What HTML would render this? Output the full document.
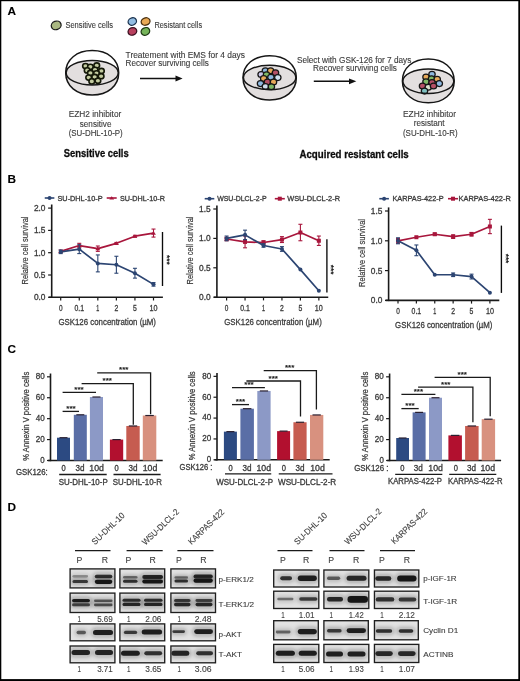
<!DOCTYPE html>
<html><head><meta charset="utf-8"><style>
html,body{margin:0;padding:0;background:#fff;width:520px;height:681px;overflow:hidden}
svg{display:block;will-change:transform}
text{font-family:"Liberation Sans", sans-serif}
</style></head><body>
<svg width="520" height="681" viewBox="0 0 520 681">
<rect x="0" y="0" width="520" height="681" fill="#fff"/>
<rect x="0" y="0" width="520" height="1.2" fill="#000"/>
<rect x="0" y="0" width="1.3" height="681" fill="#000"/>
<rect x="518.3" y="0" width="1.7" height="681" fill="#000"/>
<rect x="0" y="679.1" width="520" height="1.9" fill="#000"/>
<text x="7.4" y="15.0" font-size="11.8" fill="#000" text-anchor="start" font-weight="bold" stroke="#000" stroke-width="0.1" >A</text>
<text x="7.4" y="182.9" font-size="11.8" fill="#000" text-anchor="start" font-weight="bold" stroke="#000" stroke-width="0.1" >B</text>
<text x="7.4" y="353.2" font-size="11.8" fill="#000" text-anchor="start" font-weight="bold" stroke="#000" stroke-width="0.1" >C</text>
<text x="7.4" y="510.5" font-size="11.8" fill="#000" text-anchor="start" font-weight="bold" stroke="#000" stroke-width="0.1" >D</text>
<ellipse cx="56.2" cy="25.4" rx="5.0" ry="4.2" fill="#aab882" stroke="#1a1a1a" stroke-width="1.3" transform="rotate(-20 56.2 25.4)"/>
<text x="65.4" y="27.7" font-size="8.3" fill="#3b3b3b" text-anchor="start" font-weight="normal" textLength="47.6" lengthAdjust="spacingAndGlyphs" stroke="#3b3b3b" stroke-width="0.12" >Sensitive cells</text>
<ellipse cx="132.3" cy="21.5" rx="4.3" ry="3.6" fill="#92bde3" stroke="#1d3550" stroke-width="1.3" transform="rotate(-25 132.3 21.5)"/>
<ellipse cx="145.6" cy="21.5" rx="4.5" ry="3.6" fill="#e9a955" stroke="#4a3010" stroke-width="1.3" transform="rotate(-20 145.6 21.5)"/>
<ellipse cx="132.4" cy="31.4" rx="4.4" ry="3.7" fill="#b8405e" stroke="#3a1020" stroke-width="1.3" transform="rotate(-20 132.4 31.4)"/>
<ellipse cx="145.4" cy="31.4" rx="4.4" ry="3.7" fill="#76b45a" stroke="#1f3a15" stroke-width="1.3" transform="rotate(-25 145.4 31.4)"/>
<text x="154.4" y="27.7" font-size="8.3" fill="#3b3b3b" text-anchor="start" font-weight="normal" textLength="47.7" lengthAdjust="spacingAndGlyphs" stroke="#3b3b3b" stroke-width="0.12" >Resistant cells</text>
<path d="M66.0,72.8 A26.2,12.2 0 0 1 118.4,72.8 L118.7,72.8 C118.7,86.12 107.70,95.0 92.2,95.0 C76.70,95.0 65.7,86.12 65.7,72.8 Z" fill="#e3dfdf"/>
<ellipse cx="85.5" cy="66.1" rx="2.85" ry="2.6" fill="#c3cba0" stroke="#141808" stroke-width="1.6" transform="rotate(0 85.5 66.1)"/>
<ellipse cx="90.4" cy="66.9" rx="2.85" ry="2.6" fill="#c3cba0" stroke="#141808" stroke-width="1.6" transform="rotate(0 90.4 66.9)"/>
<ellipse cx="96.75" cy="65.5" rx="2.85" ry="2.6" fill="#c3cba0" stroke="#141808" stroke-width="1.6" transform="rotate(0 96.75 65.5)"/>
<ellipse cx="87.2" cy="70.4" rx="2.85" ry="2.6" fill="#c3cba0" stroke="#141808" stroke-width="1.6" transform="rotate(0 87.2 70.4)"/>
<ellipse cx="95" cy="69.8" rx="2.85" ry="2.6" fill="#c3cba0" stroke="#141808" stroke-width="1.6" transform="rotate(0 95 69.8)"/>
<ellipse cx="101.4" cy="71" rx="2.85" ry="2.6" fill="#c3cba0" stroke="#141808" stroke-width="1.6" transform="rotate(0 101.4 71)"/>
<ellipse cx="90.4" cy="73" rx="2.85" ry="2.6" fill="#c3cba0" stroke="#141808" stroke-width="1.6" transform="rotate(0 90.4 73)"/>
<ellipse cx="96.5" cy="73.3" rx="2.85" ry="2.6" fill="#c3cba0" stroke="#141808" stroke-width="1.6" transform="rotate(0 96.5 73.3)"/>
<ellipse cx="88.7" cy="77.6" rx="2.85" ry="2.6" fill="#c3cba0" stroke="#141808" stroke-width="1.6" transform="rotate(0 88.7 77.6)"/>
<ellipse cx="94.7" cy="77" rx="2.85" ry="2.6" fill="#c3cba0" stroke="#141808" stroke-width="1.6" transform="rotate(0 94.7 77)"/>
<ellipse cx="101.1" cy="76.2" rx="2.85" ry="2.6" fill="#c3cba0" stroke="#141808" stroke-width="1.6" transform="rotate(0 101.1 76.2)"/>
<ellipse cx="91.8" cy="81.4" rx="2.85" ry="2.6" fill="#c3cba0" stroke="#141808" stroke-width="1.6" transform="rotate(0 91.8 81.4)"/>
<ellipse cx="97.9" cy="80.8" rx="2.85" ry="2.6" fill="#c3cba0" stroke="#141808" stroke-width="1.6" transform="rotate(0 97.9 80.8)"/>
<path d="M92.2,50.599999999999994 C76.70,50.599999999999994 65.7,59.48 65.7,72.8 C65.7,86.12 76.70,95.0 92.2,95.0 C107.70,95.0 118.7,86.12 118.7,72.8 C118.7,59.48 107.70,50.599999999999994 92.2,50.599999999999994 Z" fill="none" stroke="#161616" stroke-width="1.5"/>
<ellipse cx="92.2" cy="72.8" rx="26.1" ry="12.2" fill="none" stroke="#161616" stroke-width="1.5"/>
<path d="M243.29999999999998,77.5 A26.349999999999998,12.2 0 0 1 295.99999999999994,77.5 L296.29999999999995,77.85 C296.29999999999995,91.14 285.24,100.0 269.65,100.0 C254.06,100.0 242.99999999999997,91.14 242.99999999999997,77.85 Z" fill="#e3dfdf"/>
<ellipse cx="265.4" cy="70.7" rx="3.2" ry="2.9" fill="#8fb9e0" stroke="#161616" stroke-width="1.25" transform="rotate(0 265.4 70.7)"/>
<ellipse cx="270.6" cy="70.7" rx="3.2" ry="2.9" fill="#e7a95a" stroke="#161616" stroke-width="1.25" transform="rotate(0 270.6 70.7)"/>
<ellipse cx="275.5" cy="72.7" rx="3.2" ry="2.9" fill="#b55066" stroke="#161616" stroke-width="1.25" transform="rotate(0 275.5 72.7)"/>
<ellipse cx="261.1" cy="74.4" rx="3.2" ry="2.9" fill="#c9c3e6" stroke="#161616" stroke-width="1.25" transform="rotate(0 261.1 74.4)"/>
<ellipse cx="266.5" cy="74.7" rx="3.2" ry="2.9" fill="#7fb865" stroke="#161616" stroke-width="1.25" transform="rotate(0 266.5 74.7)"/>
<ellipse cx="270.9" cy="77.3" rx="3.2" ry="2.9" fill="#8fb9e0" stroke="#161616" stroke-width="1.25" transform="rotate(0 270.9 77.3)"/>
<ellipse cx="277.8" cy="77.6" rx="3.2" ry="2.9" fill="#cfe0ef" stroke="#161616" stroke-width="1.25" transform="rotate(0 277.8 77.6)"/>
<ellipse cx="263.7" cy="78.4" rx="3.2" ry="2.9" fill="#e7a95a" stroke="#161616" stroke-width="1.25" transform="rotate(0 263.7 78.4)"/>
<ellipse cx="267.4" cy="81.9" rx="3.2" ry="2.9" fill="#b55066" stroke="#161616" stroke-width="1.25" transform="rotate(0 267.4 81.9)"/>
<ellipse cx="273.5" cy="81.9" rx="3.2" ry="2.9" fill="#e7a95a" stroke="#161616" stroke-width="1.25" transform="rotate(0 273.5 81.9)"/>
<ellipse cx="260.5" cy="83.6" rx="3.2" ry="2.9" fill="#8fb9e0" stroke="#161616" stroke-width="1.25" transform="rotate(0 260.5 83.6)"/>
<ellipse cx="265.4" cy="86.5" rx="3.2" ry="2.9" fill="#cfe0ef" stroke="#161616" stroke-width="1.25" transform="rotate(0 265.4 86.5)"/>
<ellipse cx="271.4" cy="86.8" rx="3.2" ry="2.9" fill="#7fb865" stroke="#161616" stroke-width="1.25" transform="rotate(0 271.4 86.8)"/>
<path d="M269.65,55.7 C254.06,55.7 242.99999999999997,64.56 242.99999999999997,77.85 C242.99999999999997,91.14 254.06,100.0 269.65,100.0 C285.24,100.0 296.29999999999995,91.14 296.29999999999995,77.85 C296.29999999999995,64.56 285.24,55.7 269.65,55.7 Z" fill="none" stroke="#161616" stroke-width="1.5"/>
<ellipse cx="269.65" cy="77.5" rx="26.25" ry="12.2" fill="none" stroke="#161616" stroke-width="1.5"/>
<path d="M402.70000000000005,81.3 A25.599999999999998,12.2 0 0 1 453.9,81.3 L454.2,80.9 C454.2,94.04 443.45,102.8 428.3,102.8 C413.15,102.8 402.40000000000003,94.04 402.40000000000003,80.9 Z" fill="#e3dfdf"/>
<ellipse cx="432" cy="74.3" rx="3.2" ry="2.9" fill="#8fb9e0" stroke="#161616" stroke-width="1.25" transform="rotate(0 432 74.3)"/>
<ellipse cx="426" cy="77" rx="3.2" ry="2.9" fill="#e7a95a" stroke="#161616" stroke-width="1.25" transform="rotate(0 426 77)"/>
<ellipse cx="431.5" cy="78.7" rx="3.2" ry="2.9" fill="#7fb865" stroke="#161616" stroke-width="1.25" transform="rotate(0 431.5 78.7)"/>
<ellipse cx="437.2" cy="79.3" rx="3.2" ry="2.9" fill="#e7a95a" stroke="#161616" stroke-width="1.25" transform="rotate(0 437.2 79.3)"/>
<ellipse cx="426" cy="81.8" rx="3.2" ry="2.9" fill="#7fb865" stroke="#161616" stroke-width="1.25" transform="rotate(0 426 81.8)"/>
<ellipse cx="432" cy="82.4" rx="3.2" ry="2.9" fill="#b55066" stroke="#161616" stroke-width="1.25" transform="rotate(0 432 82.4)"/>
<ellipse cx="439.3" cy="83.6" rx="3.2" ry="2.9" fill="#8fb9e0" stroke="#161616" stroke-width="1.25" transform="rotate(0 439.3 83.6)"/>
<ellipse cx="422.5" cy="85.9" rx="3.2" ry="2.9" fill="#b55066" stroke="#161616" stroke-width="1.25" transform="rotate(0 422.5 85.9)"/>
<ellipse cx="428.3" cy="87.3" rx="3.2" ry="2.9" fill="#dde3cf" stroke="#161616" stroke-width="1.25" transform="rotate(0 428.3 87.3)"/>
<ellipse cx="433.5" cy="85.9" rx="3.2" ry="2.9" fill="#b55066" stroke="#161616" stroke-width="1.25" transform="rotate(0 433.5 85.9)"/>
<ellipse cx="424.5" cy="91.1" rx="3.2" ry="2.9" fill="#7ec0c0" stroke="#161616" stroke-width="1.25" transform="rotate(0 424.5 91.1)"/>
<path d="M428.3,59.0 C413.15,59.0 402.40000000000003,67.76 402.40000000000003,80.9 C402.40000000000003,94.04 413.15,102.8 428.3,102.8 C443.45,102.8 454.2,94.04 454.2,80.9 C454.2,67.76 443.45,59.0 428.3,59.0 Z" fill="none" stroke="#161616" stroke-width="1.5"/>
<ellipse cx="428.3" cy="81.3" rx="25.5" ry="12.2" fill="none" stroke="#161616" stroke-width="1.5"/>
<text x="125.6" y="57.5" font-size="8.4" fill="#3b3b3b" text-anchor="start" font-weight="normal" textLength="119.4" lengthAdjust="spacingAndGlyphs" stroke="#3b3b3b" stroke-width="0.12" >Treatement with EMS for 4 days</text>
<text x="125.6" y="66.3" font-size="8.4" fill="#3b3b3b" text-anchor="start" font-weight="normal" textLength="83.2" lengthAdjust="spacingAndGlyphs" stroke="#3b3b3b" stroke-width="0.12" >Recover surviving cells</text>
<line x1="140" y1="78.5" x2="177" y2="78.5" stroke="#111" stroke-width="1.4" />
<path d="M175.5,75.6 L182.6,78.5 L175.5,81.4 Z" fill="#111"/>
<text x="296.9" y="63.1" font-size="8.4" fill="#3b3b3b" text-anchor="start" font-weight="normal" textLength="114.4" lengthAdjust="spacingAndGlyphs" stroke="#3b3b3b" stroke-width="0.12" >Select with GSK-126 for 7 days</text>
<text x="313.1" y="71.3" font-size="8.4" fill="#3b3b3b" text-anchor="start" font-weight="normal" textLength="83.8" lengthAdjust="spacingAndGlyphs" stroke="#3b3b3b" stroke-width="0.12" >Recover surviving cells</text>
<line x1="313.8" y1="81.3" x2="350" y2="81.3" stroke="#111" stroke-width="1.4" />
<path d="M349,78.4 L356.3,81.3 L349,84.2 Z" fill="#111"/>
<text x="95.0" y="116.8" font-size="8.3" fill="#3b3b3b" text-anchor="middle" font-weight="normal" textLength="52.6" lengthAdjust="spacingAndGlyphs" stroke="#3b3b3b" stroke-width="0.12" >EZH2 inhibitor</text>
<text x="95.6" y="126.8" font-size="8.3" fill="#3b3b3b" text-anchor="middle" font-weight="normal" textLength="31.6" lengthAdjust="spacingAndGlyphs" stroke="#3b3b3b" stroke-width="0.12" >sensitive</text>
<text x="95.7" y="135.9" font-size="8.3" fill="#3b3b3b" text-anchor="middle" font-weight="normal" textLength="54.0" lengthAdjust="spacingAndGlyphs" stroke="#3b3b3b" stroke-width="0.12" >(SU-DHL-10-P)</text>
<text x="63.8" y="157.1" font-size="10.3" fill="#0d0d0d" text-anchor="start" font-weight="bold" textLength="64.9" lengthAdjust="spacingAndGlyphs" stroke="#0d0d0d" stroke-width="0.3" >Sensitive cells</text>
<text x="429.5" y="117.0" font-size="8.3" fill="#3b3b3b" text-anchor="middle" font-weight="normal" textLength="53.0" lengthAdjust="spacingAndGlyphs" stroke="#3b3b3b" stroke-width="0.12" >EZH2 inhibitor</text>
<text x="429.2" y="126.2" font-size="8.3" fill="#3b3b3b" text-anchor="middle" font-weight="normal" textLength="30.8" lengthAdjust="spacingAndGlyphs" stroke="#3b3b3b" stroke-width="0.12" >resistant</text>
<text x="430.3" y="135.6" font-size="8.3" fill="#3b3b3b" text-anchor="middle" font-weight="normal" textLength="54.7" lengthAdjust="spacingAndGlyphs" stroke="#3b3b3b" stroke-width="0.12" >(SU-DHL-10-R)</text>
<text x="299.5" y="157.5" font-size="10.3" fill="#0d0d0d" text-anchor="start" font-weight="bold" textLength="109.2" lengthAdjust="spacingAndGlyphs" stroke="#0d0d0d" stroke-width="0.3" >Acquired resistant cells</text>
<line x1="51.7" y1="204.50000000000003" x2="51.7" y2="298.0" stroke="#1a1a1a" stroke-width="1.6" />
<line x1="48.7" y1="297.3" x2="162.9" y2="297.3" stroke="#1a1a1a" stroke-width="1.6" />
<line x1="48.1" y1="208.10000000000002" x2="51.7" y2="208.10000000000002" stroke="#1a1a1a" stroke-width="1.2" />
<text x="45.5" y="211.00000000000003" font-size="8.3" fill="#3a3a3a" text-anchor="end" font-weight="normal" textLength="11.6" lengthAdjust="spacingAndGlyphs" stroke="#3a3a3a" stroke-width="0.3" >2.0</text>
<line x1="48.1" y1="230.4" x2="51.7" y2="230.4" stroke="#1a1a1a" stroke-width="1.2" />
<text x="45.5" y="233.3" font-size="8.3" fill="#3a3a3a" text-anchor="end" font-weight="normal" textLength="11.6" lengthAdjust="spacingAndGlyphs" stroke="#3a3a3a" stroke-width="0.3" >1.5</text>
<line x1="48.1" y1="252.70000000000002" x2="51.7" y2="252.70000000000002" stroke="#1a1a1a" stroke-width="1.2" />
<text x="45.5" y="255.60000000000002" font-size="8.3" fill="#3a3a3a" text-anchor="end" font-weight="normal" textLength="11.6" lengthAdjust="spacingAndGlyphs" stroke="#3a3a3a" stroke-width="0.3" >1.0</text>
<line x1="48.1" y1="275.0" x2="51.7" y2="275.0" stroke="#1a1a1a" stroke-width="1.2" />
<text x="45.5" y="277.9" font-size="8.3" fill="#3a3a3a" text-anchor="end" font-weight="normal" textLength="11.6" lengthAdjust="spacingAndGlyphs" stroke="#3a3a3a" stroke-width="0.3" >0.5</text>
<line x1="48.1" y1="297.3" x2="51.7" y2="297.3" stroke="#1a1a1a" stroke-width="1.2" />
<text x="45.5" y="300.2" font-size="8.3" fill="#3a3a3a" text-anchor="end" font-weight="normal" textLength="11.6" lengthAdjust="spacingAndGlyphs" stroke="#3a3a3a" stroke-width="0.3" >0.0</text>
<line x1="60.7" y1="297.3" x2="60.7" y2="300.5" stroke="#1a1a1a" stroke-width="1.2" />
<text x="60.7" y="310.90000000000003" font-size="8.6" fill="#3a3a3a" text-anchor="middle" font-weight="normal" textLength="3.6" lengthAdjust="spacingAndGlyphs" stroke="#3a3a3a" stroke-width="0.3" >0</text>
<line x1="79.26" y1="297.3" x2="79.26" y2="300.5" stroke="#1a1a1a" stroke-width="1.2" />
<text x="79.26" y="310.90000000000003" font-size="8.6" fill="#3a3a3a" text-anchor="middle" font-weight="normal" textLength="9.6" lengthAdjust="spacingAndGlyphs" stroke="#3a3a3a" stroke-width="0.3" >0.1</text>
<line x1="97.82" y1="297.3" x2="97.82" y2="300.5" stroke="#1a1a1a" stroke-width="1.2" />
<text x="97.82" y="310.90000000000003" font-size="8.6" fill="#3a3a3a" text-anchor="middle" font-weight="normal" textLength="3.0" lengthAdjust="spacingAndGlyphs" stroke="#3a3a3a" stroke-width="0.3" >1</text>
<line x1="116.38" y1="297.3" x2="116.38" y2="300.5" stroke="#1a1a1a" stroke-width="1.2" />
<text x="116.38" y="310.90000000000003" font-size="8.6" fill="#3a3a3a" text-anchor="middle" font-weight="normal" textLength="3.8" lengthAdjust="spacingAndGlyphs" stroke="#3a3a3a" stroke-width="0.3" >2</text>
<line x1="134.94" y1="297.3" x2="134.94" y2="300.5" stroke="#1a1a1a" stroke-width="1.2" />
<text x="134.94" y="310.90000000000003" font-size="8.6" fill="#3a3a3a" text-anchor="middle" font-weight="normal" textLength="3.8" lengthAdjust="spacingAndGlyphs" stroke="#3a3a3a" stroke-width="0.3" >5</text>
<line x1="153.5" y1="297.3" x2="153.5" y2="300.5" stroke="#1a1a1a" stroke-width="1.2" />
<text x="153.5" y="310.90000000000003" font-size="8.6" fill="#3a3a3a" text-anchor="middle" font-weight="normal" textLength="8.0" lengthAdjust="spacingAndGlyphs" stroke="#3a3a3a" stroke-width="0.3" >10</text>
<text x="107.2" y="324.8" font-size="9.8" fill="#3a3a3a" text-anchor="middle" font-weight="normal" textLength="97.6" lengthAdjust="spacingAndGlyphs" stroke="#3a3a3a" stroke-width="0.3" >GSK126 concentration (µM)</text>
<text x="0" y="0" font-size="9.2" fill="#3a3a3a" stroke="#3a3a3a" stroke-width="0.2" text-anchor="middle" textLength="68" lengthAdjust="spacingAndGlyphs" transform="translate(27.6,250.5) rotate(-90)">Relative cell survival</text>
<line x1="60.7" y1="250.02400000000003" x2="60.7" y2="252.70000000000002" stroke="#a8163c" stroke-width="1.1" />
<line x1="58.7" y1="250.02400000000003" x2="62.7" y2="250.02400000000003" stroke="#a8163c" stroke-width="1.1" />
<line x1="58.7" y1="252.70000000000002" x2="62.7" y2="252.70000000000002" stroke="#a8163c" stroke-width="1.1" />
<line x1="79.26" y1="243.33400000000003" x2="79.26" y2="247.794" stroke="#a8163c" stroke-width="1.1" />
<line x1="77.26" y1="243.33400000000003" x2="81.26" y2="243.33400000000003" stroke="#a8163c" stroke-width="1.1" />
<line x1="77.26" y1="247.794" x2="81.26" y2="247.794" stroke="#a8163c" stroke-width="1.1" />
<line x1="97.82" y1="246.01000000000002" x2="97.82" y2="251.362" stroke="#a8163c" stroke-width="1.1" />
<line x1="95.82" y1="246.01000000000002" x2="99.82" y2="246.01000000000002" stroke="#a8163c" stroke-width="1.1" />
<line x1="95.82" y1="251.362" x2="99.82" y2="251.362" stroke="#a8163c" stroke-width="1.1" />
<line x1="116.38" y1="242.442" x2="116.38" y2="244.226" stroke="#a8163c" stroke-width="1.1" />
<line x1="114.38" y1="242.442" x2="118.38" y2="242.442" stroke="#a8163c" stroke-width="1.1" />
<line x1="114.38" y1="244.226" x2="118.38" y2="244.226" stroke="#a8163c" stroke-width="1.1" />
<line x1="134.94" y1="235.306" x2="134.94" y2="237.09" stroke="#a8163c" stroke-width="1.1" />
<line x1="132.94" y1="235.306" x2="136.94" y2="235.306" stroke="#a8163c" stroke-width="1.1" />
<line x1="132.94" y1="237.09" x2="136.94" y2="237.09" stroke="#a8163c" stroke-width="1.1" />
<line x1="153.5" y1="229.062" x2="153.5" y2="237.09000000000003" stroke="#a8163c" stroke-width="1.1" />
<line x1="151.5" y1="229.062" x2="155.5" y2="229.062" stroke="#a8163c" stroke-width="1.1" />
<line x1="151.5" y1="237.09000000000003" x2="155.5" y2="237.09000000000003" stroke="#a8163c" stroke-width="1.1" />
<path d="M60.70,251.36 L79.26,245.56 L97.82,248.69 L116.38,243.33 L134.94,236.20 L153.50,233.08" fill="none" stroke="#a8163c" stroke-width="1.7" stroke-linejoin="round"/>
<path d="M58.300000000000004,252.96200000000002 L60.7,249.36200000000002 L63.1,252.96200000000002 Z" fill="#a8163c"/>
<path d="M76.86,247.16400000000002 L79.26,243.56400000000002 L81.66000000000001,247.16400000000002 Z" fill="#a8163c"/>
<path d="M95.41999999999999,250.286 L97.82,246.686 L100.22,250.286 Z" fill="#a8163c"/>
<path d="M113.97999999999999,244.934 L116.38,241.334 L118.78,244.934 Z" fill="#a8163c"/>
<path d="M132.54,237.798 L134.94,234.198 L137.34,237.798 Z" fill="#a8163c"/>
<path d="M151.1,234.67600000000002 L153.5,231.07600000000002 L155.9,234.67600000000002 Z" fill="#a8163c"/>
<line x1="60.7" y1="250.024" x2="60.7" y2="253.59199999999998" stroke="#2c4572" stroke-width="1.1" />
<line x1="58.7" y1="250.024" x2="62.7" y2="250.024" stroke="#2c4572" stroke-width="1.1" />
<line x1="58.7" y1="253.59199999999998" x2="62.7" y2="253.59199999999998" stroke="#2c4572" stroke-width="1.1" />
<line x1="79.26" y1="244.672" x2="79.26" y2="253.592" stroke="#2c4572" stroke-width="1.1" />
<line x1="77.26" y1="244.672" x2="81.26" y2="244.672" stroke="#2c4572" stroke-width="1.1" />
<line x1="77.26" y1="253.592" x2="81.26" y2="253.592" stroke="#2c4572" stroke-width="1.1" />
<line x1="97.82" y1="254.93" x2="97.82" y2="271.878" stroke="#2c4572" stroke-width="1.1" />
<line x1="95.82" y1="254.93" x2="99.82" y2="254.93" stroke="#2c4572" stroke-width="1.1" />
<line x1="95.82" y1="271.878" x2="99.82" y2="271.878" stroke="#2c4572" stroke-width="1.1" />
<line x1="116.38" y1="256.26800000000003" x2="116.38" y2="273.216" stroke="#2c4572" stroke-width="1.1" />
<line x1="114.38" y1="256.26800000000003" x2="118.38" y2="256.26800000000003" stroke="#2c4572" stroke-width="1.1" />
<line x1="114.38" y1="273.216" x2="118.38" y2="273.216" stroke="#2c4572" stroke-width="1.1" />
<line x1="134.94" y1="268.31" x2="134.94" y2="278.122" stroke="#2c4572" stroke-width="1.1" />
<line x1="132.94" y1="268.31" x2="136.94" y2="268.31" stroke="#2c4572" stroke-width="1.1" />
<line x1="132.94" y1="278.122" x2="136.94" y2="278.122" stroke="#2c4572" stroke-width="1.1" />
<line x1="153.5" y1="282.582" x2="153.5" y2="286.15" stroke="#2c4572" stroke-width="1.1" />
<line x1="151.5" y1="282.582" x2="155.5" y2="282.582" stroke="#2c4572" stroke-width="1.1" />
<line x1="151.5" y1="286.15" x2="155.5" y2="286.15" stroke="#2c4572" stroke-width="1.1" />
<path d="M60.70,251.81 L79.26,249.13 L97.82,263.40 L116.38,264.74 L134.94,273.22 L153.50,284.37" fill="none" stroke="#2c4572" stroke-width="1.7" stroke-linejoin="round"/>
<circle cx="60.7" cy="251.808" r="2" fill="#2c4572"/>
<circle cx="79.26" cy="249.132" r="2" fill="#2c4572"/>
<circle cx="97.82" cy="263.404" r="2" fill="#2c4572"/>
<circle cx="116.38" cy="264.742" r="2" fill="#2c4572"/>
<circle cx="134.94" cy="273.216" r="2" fill="#2c4572"/>
<circle cx="153.5" cy="284.366" r="2" fill="#2c4572"/>
<line x1="44.75" y1="198.0" x2="54.35" y2="198.0" stroke="#2c4572" stroke-width="1.6" />
<circle cx="49.55" cy="198.0" r="2.0" fill="#2c4572"/>
<text x="57.5" y="200.6" font-size="7.3" fill="#3a3a3a" text-anchor="start" font-weight="normal" textLength="45.0" lengthAdjust="spacingAndGlyphs" stroke="#3a3a3a" stroke-width="0.3" >SU-DHL-10-P</text>
<line x1="106.7" y1="198.0" x2="116.7" y2="198.0" stroke="#a8163c" stroke-width="1.6" />
<path d="M109.3,199.5 L111.7,196.2 L114.10000000000001,199.5 Z" fill="#a8163c"/>
<text x="119.9" y="200.6" font-size="7.3" fill="#3a3a3a" text-anchor="start" font-weight="normal" textLength="45.0" lengthAdjust="spacingAndGlyphs" stroke="#3a3a3a" stroke-width="0.3" >SU-DHL-10-R</text>
<line x1="162.5" y1="232" x2="162.5" y2="286" stroke="#0a0a0a" stroke-width="1.35" />
<text x="0" y="0" font-size="8.6" font-weight="bold" fill="#1a1a1a" text-anchor="middle" textLength="9.6" lengthAdjust="spacingAndGlyphs" transform="translate(163.9,259.8) rotate(90)">***</text>
<line x1="216.9" y1="205.4" x2="216.9" y2="297.9" stroke="#1a1a1a" stroke-width="1.6" />
<line x1="213.9" y1="297.2" x2="328.25" y2="297.2" stroke="#1a1a1a" stroke-width="1.6" />
<line x1="213.3" y1="209.0" x2="216.9" y2="209.0" stroke="#1a1a1a" stroke-width="1.2" />
<text x="210.70000000000002" y="211.9" font-size="8.3" fill="#3a3a3a" text-anchor="end" font-weight="normal" textLength="11.6" lengthAdjust="spacingAndGlyphs" stroke="#3a3a3a" stroke-width="0.3" >1.5</text>
<line x1="213.3" y1="238.39999999999998" x2="216.9" y2="238.39999999999998" stroke="#1a1a1a" stroke-width="1.2" />
<text x="210.70000000000002" y="241.29999999999998" font-size="8.3" fill="#3a3a3a" text-anchor="end" font-weight="normal" textLength="11.6" lengthAdjust="spacingAndGlyphs" stroke="#3a3a3a" stroke-width="0.3" >1.0</text>
<line x1="213.3" y1="267.8" x2="216.9" y2="267.8" stroke="#1a1a1a" stroke-width="1.2" />
<text x="210.70000000000002" y="270.7" font-size="8.3" fill="#3a3a3a" text-anchor="end" font-weight="normal" textLength="11.6" lengthAdjust="spacingAndGlyphs" stroke="#3a3a3a" stroke-width="0.3" >0.5</text>
<line x1="213.3" y1="297.2" x2="216.9" y2="297.2" stroke="#1a1a1a" stroke-width="1.2" />
<text x="210.70000000000002" y="300.09999999999997" font-size="8.3" fill="#3a3a3a" text-anchor="end" font-weight="normal" textLength="11.6" lengthAdjust="spacingAndGlyphs" stroke="#3a3a3a" stroke-width="0.3" >0.0</text>
<line x1="226.6" y1="297.2" x2="226.6" y2="300.4" stroke="#1a1a1a" stroke-width="1.2" />
<text x="226.6" y="310.8" font-size="8.6" fill="#3a3a3a" text-anchor="middle" font-weight="normal" textLength="3.6" lengthAdjust="spacingAndGlyphs" stroke="#3a3a3a" stroke-width="0.3" >0</text>
<line x1="245.04999999999998" y1="297.2" x2="245.04999999999998" y2="300.4" stroke="#1a1a1a" stroke-width="1.2" />
<text x="245.04999999999998" y="310.8" font-size="8.6" fill="#3a3a3a" text-anchor="middle" font-weight="normal" textLength="9.6" lengthAdjust="spacingAndGlyphs" stroke="#3a3a3a" stroke-width="0.3" >0.1</text>
<line x1="263.5" y1="297.2" x2="263.5" y2="300.4" stroke="#1a1a1a" stroke-width="1.2" />
<text x="263.5" y="310.8" font-size="8.6" fill="#3a3a3a" text-anchor="middle" font-weight="normal" textLength="3.0" lengthAdjust="spacingAndGlyphs" stroke="#3a3a3a" stroke-width="0.3" >1</text>
<line x1="281.95" y1="297.2" x2="281.95" y2="300.4" stroke="#1a1a1a" stroke-width="1.2" />
<text x="281.95" y="310.8" font-size="8.6" fill="#3a3a3a" text-anchor="middle" font-weight="normal" textLength="3.8" lengthAdjust="spacingAndGlyphs" stroke="#3a3a3a" stroke-width="0.3" >2</text>
<line x1="300.4" y1="297.2" x2="300.4" y2="300.4" stroke="#1a1a1a" stroke-width="1.2" />
<text x="300.4" y="310.8" font-size="8.6" fill="#3a3a3a" text-anchor="middle" font-weight="normal" textLength="3.8" lengthAdjust="spacingAndGlyphs" stroke="#3a3a3a" stroke-width="0.3" >5</text>
<line x1="318.85" y1="297.2" x2="318.85" y2="300.4" stroke="#1a1a1a" stroke-width="1.2" />
<text x="318.85" y="310.8" font-size="8.6" fill="#3a3a3a" text-anchor="middle" font-weight="normal" textLength="8.0" lengthAdjust="spacingAndGlyphs" stroke="#3a3a3a" stroke-width="0.3" >10</text>
<text x="273.0" y="324.7" font-size="9.8" fill="#3a3a3a" text-anchor="middle" font-weight="normal" textLength="97.5" lengthAdjust="spacingAndGlyphs" stroke="#3a3a3a" stroke-width="0.3" >GSK126 concentration (µM)</text>
<text x="0" y="0" font-size="9.2" fill="#3a3a3a" stroke="#3a3a3a" stroke-width="0.2" text-anchor="middle" textLength="68" lengthAdjust="spacingAndGlyphs" transform="translate(193.3,250.5) rotate(-90)">Relative cell survival</text>
<line x1="226.6" y1="237.224" x2="226.6" y2="240.752" stroke="#a8163c" stroke-width="1.1" />
<line x1="224.6" y1="237.224" x2="228.6" y2="237.224" stroke="#a8163c" stroke-width="1.1" />
<line x1="224.6" y1="240.752" x2="228.6" y2="240.752" stroke="#a8163c" stroke-width="1.1" />
<line x1="245.04999999999998" y1="236.048" x2="245.04999999999998" y2="247.808" stroke="#a8163c" stroke-width="1.1" />
<line x1="243.04999999999998" y1="236.048" x2="247.04999999999998" y2="236.048" stroke="#a8163c" stroke-width="1.1" />
<line x1="243.04999999999998" y1="247.808" x2="247.04999999999998" y2="247.808" stroke="#a8163c" stroke-width="1.1" />
<line x1="263.5" y1="240.75199999999998" x2="263.5" y2="244.28" stroke="#a8163c" stroke-width="1.1" />
<line x1="261.5" y1="240.75199999999998" x2="265.5" y2="240.75199999999998" stroke="#a8163c" stroke-width="1.1" />
<line x1="261.5" y1="244.28" x2="265.5" y2="244.28" stroke="#a8163c" stroke-width="1.1" />
<line x1="281.95" y1="236.636" x2="281.95" y2="242.516" stroke="#a8163c" stroke-width="1.1" />
<line x1="279.95" y1="236.636" x2="283.95" y2="236.636" stroke="#a8163c" stroke-width="1.1" />
<line x1="279.95" y1="242.516" x2="283.95" y2="242.516" stroke="#a8163c" stroke-width="1.1" />
<line x1="300.4" y1="224.28799999999998" x2="300.4" y2="240.75199999999998" stroke="#a8163c" stroke-width="1.1" />
<line x1="298.4" y1="224.28799999999998" x2="302.4" y2="224.28799999999998" stroke="#a8163c" stroke-width="1.1" />
<line x1="298.4" y1="240.75199999999998" x2="302.4" y2="240.75199999999998" stroke="#a8163c" stroke-width="1.1" />
<line x1="318.85" y1="236.048" x2="318.85" y2="245.45600000000002" stroke="#a8163c" stroke-width="1.1" />
<line x1="316.85" y1="236.048" x2="320.85" y2="236.048" stroke="#a8163c" stroke-width="1.1" />
<line x1="316.85" y1="245.45600000000002" x2="320.85" y2="245.45600000000002" stroke="#a8163c" stroke-width="1.1" />
<path d="M226.60,238.99 L245.05,241.93 L263.50,242.52 L281.95,239.58 L300.40,232.52 L318.85,240.75" fill="none" stroke="#a8163c" stroke-width="1.7" stroke-linejoin="round"/>
<rect x="224.6" y="236.988" width="4" height="4" fill="#a8163c"/>
<rect x="243.04999999999998" y="239.928" width="4" height="4" fill="#a8163c"/>
<rect x="261.5" y="240.516" width="4" height="4" fill="#a8163c"/>
<rect x="279.95" y="237.576" width="4" height="4" fill="#a8163c"/>
<rect x="298.4" y="230.51999999999998" width="4" height="4" fill="#a8163c"/>
<rect x="316.85" y="238.752" width="4" height="4" fill="#a8163c"/>
<line x1="226.6" y1="236.04799999999997" x2="226.6" y2="240.75199999999998" stroke="#2c4572" stroke-width="1.1" />
<line x1="224.6" y1="236.04799999999997" x2="228.6" y2="236.04799999999997" stroke="#2c4572" stroke-width="1.1" />
<line x1="224.6" y1="240.75199999999998" x2="228.6" y2="240.75199999999998" stroke="#2c4572" stroke-width="1.1" />
<line x1="245.04999999999998" y1="230.16799999999998" x2="245.04999999999998" y2="239.576" stroke="#2c4572" stroke-width="1.1" />
<line x1="243.04999999999998" y1="230.16799999999998" x2="247.04999999999998" y2="230.16799999999998" stroke="#2c4572" stroke-width="1.1" />
<line x1="243.04999999999998" y1="239.576" x2="247.04999999999998" y2="239.576" stroke="#2c4572" stroke-width="1.1" />
<line x1="263.5" y1="243.69199999999998" x2="263.5" y2="247.22" stroke="#2c4572" stroke-width="1.1" />
<line x1="261.5" y1="243.69199999999998" x2="265.5" y2="243.69199999999998" stroke="#2c4572" stroke-width="1.1" />
<line x1="261.5" y1="247.22" x2="265.5" y2="247.22" stroke="#2c4572" stroke-width="1.1" />
<line x1="281.95" y1="246.63199999999998" x2="281.95" y2="251.33599999999998" stroke="#2c4572" stroke-width="1.1" />
<line x1="279.95" y1="246.63199999999998" x2="283.95" y2="246.63199999999998" stroke="#2c4572" stroke-width="1.1" />
<line x1="279.95" y1="251.33599999999998" x2="283.95" y2="251.33599999999998" stroke="#2c4572" stroke-width="1.1" />
<path d="M226.60,238.40 L245.05,234.87 L263.50,245.46 L281.95,248.98 L300.40,269.56 L318.85,290.73" fill="none" stroke="#2c4572" stroke-width="1.7" stroke-linejoin="round"/>
<circle cx="226.6" cy="238.39999999999998" r="2" fill="#2c4572"/>
<circle cx="245.04999999999998" cy="234.87199999999999" r="2" fill="#2c4572"/>
<circle cx="263.5" cy="245.456" r="2" fill="#2c4572"/>
<circle cx="281.95" cy="248.98399999999998" r="2" fill="#2c4572"/>
<circle cx="300.4" cy="269.56399999999996" r="2" fill="#2c4572"/>
<circle cx="318.85" cy="290.73199999999997" r="2" fill="#2c4572"/>
<line x1="204.7" y1="198.7" x2="214.29999999999998" y2="198.7" stroke="#2c4572" stroke-width="1.6" />
<circle cx="209.5" cy="198.7" r="2.0" fill="#2c4572"/>
<text x="217.2" y="201.29999999999998" font-size="7.3" fill="#3a3a3a" text-anchor="start" font-weight="normal" textLength="49.4" lengthAdjust="spacingAndGlyphs" stroke="#3a3a3a" stroke-width="0.3" >WSU-DLCL-2-P</text>
<line x1="274.8" y1="198.7" x2="284.8" y2="198.7" stroke="#a8163c" stroke-width="1.6" />
<rect x="277.8" y="196.7" width="4" height="4" fill="#a8163c"/>
<text x="287.2" y="201.29999999999998" font-size="7.3" fill="#3a3a3a" text-anchor="start" font-weight="normal" textLength="52.8" lengthAdjust="spacingAndGlyphs" stroke="#3a3a3a" stroke-width="0.3" >WSU-DLCL-2-R</text>
<line x1="326.9" y1="239.2" x2="326.9" y2="292.6" stroke="#0a0a0a" stroke-width="1.35" />
<text x="0" y="0" font-size="8.6" font-weight="bold" fill="#1a1a1a" text-anchor="middle" textLength="9.6" lengthAdjust="spacingAndGlyphs" transform="translate(328.4,269.6) rotate(90)">***</text>
<line x1="388.6" y1="207.39999999999998" x2="388.6" y2="301.09999999999997" stroke="#1a1a1a" stroke-width="1.6" />
<line x1="385.6" y1="300.4" x2="499.29999999999995" y2="300.4" stroke="#1a1a1a" stroke-width="1.6" />
<line x1="385.0" y1="210.99999999999997" x2="388.6" y2="210.99999999999997" stroke="#1a1a1a" stroke-width="1.2" />
<text x="382.40000000000003" y="213.89999999999998" font-size="8.3" fill="#3a3a3a" text-anchor="end" font-weight="normal" textLength="11.6" lengthAdjust="spacingAndGlyphs" stroke="#3a3a3a" stroke-width="0.3" >1.5</text>
<line x1="385.0" y1="240.79999999999998" x2="388.6" y2="240.79999999999998" stroke="#1a1a1a" stroke-width="1.2" />
<text x="382.40000000000003" y="243.7" font-size="8.3" fill="#3a3a3a" text-anchor="end" font-weight="normal" textLength="11.6" lengthAdjust="spacingAndGlyphs" stroke="#3a3a3a" stroke-width="0.3" >1.0</text>
<line x1="385.0" y1="270.59999999999997" x2="388.6" y2="270.59999999999997" stroke="#1a1a1a" stroke-width="1.2" />
<text x="382.40000000000003" y="273.49999999999994" font-size="8.3" fill="#3a3a3a" text-anchor="end" font-weight="normal" textLength="11.6" lengthAdjust="spacingAndGlyphs" stroke="#3a3a3a" stroke-width="0.3" >0.5</text>
<line x1="385.0" y1="300.4" x2="388.6" y2="300.4" stroke="#1a1a1a" stroke-width="1.2" />
<text x="382.40000000000003" y="303.29999999999995" font-size="8.3" fill="#3a3a3a" text-anchor="end" font-weight="normal" textLength="11.6" lengthAdjust="spacingAndGlyphs" stroke="#3a3a3a" stroke-width="0.3" >0.0</text>
<line x1="398.0" y1="300.4" x2="398.0" y2="303.59999999999997" stroke="#1a1a1a" stroke-width="1.2" />
<text x="398.0" y="314.0" font-size="8.6" fill="#3a3a3a" text-anchor="middle" font-weight="normal" textLength="3.6" lengthAdjust="spacingAndGlyphs" stroke="#3a3a3a" stroke-width="0.3" >0</text>
<line x1="416.38" y1="300.4" x2="416.38" y2="303.59999999999997" stroke="#1a1a1a" stroke-width="1.2" />
<text x="416.38" y="314.0" font-size="8.6" fill="#3a3a3a" text-anchor="middle" font-weight="normal" textLength="9.6" lengthAdjust="spacingAndGlyphs" stroke="#3a3a3a" stroke-width="0.3" >0.1</text>
<line x1="434.76" y1="300.4" x2="434.76" y2="303.59999999999997" stroke="#1a1a1a" stroke-width="1.2" />
<text x="434.76" y="314.0" font-size="8.6" fill="#3a3a3a" text-anchor="middle" font-weight="normal" textLength="3.0" lengthAdjust="spacingAndGlyphs" stroke="#3a3a3a" stroke-width="0.3" >1</text>
<line x1="453.14" y1="300.4" x2="453.14" y2="303.59999999999997" stroke="#1a1a1a" stroke-width="1.2" />
<text x="453.14" y="314.0" font-size="8.6" fill="#3a3a3a" text-anchor="middle" font-weight="normal" textLength="3.8" lengthAdjust="spacingAndGlyphs" stroke="#3a3a3a" stroke-width="0.3" >2</text>
<line x1="471.52" y1="300.4" x2="471.52" y2="303.59999999999997" stroke="#1a1a1a" stroke-width="1.2" />
<text x="471.52" y="314.0" font-size="8.6" fill="#3a3a3a" text-anchor="middle" font-weight="normal" textLength="3.8" lengthAdjust="spacingAndGlyphs" stroke="#3a3a3a" stroke-width="0.3" >5</text>
<line x1="489.9" y1="300.4" x2="489.9" y2="303.59999999999997" stroke="#1a1a1a" stroke-width="1.2" />
<text x="489.9" y="314.0" font-size="8.6" fill="#3a3a3a" text-anchor="middle" font-weight="normal" textLength="8.0" lengthAdjust="spacingAndGlyphs" stroke="#3a3a3a" stroke-width="0.3" >10</text>
<text x="443.8" y="327.9" font-size="9.8" fill="#3a3a3a" text-anchor="middle" font-weight="normal" textLength="97.4" lengthAdjust="spacingAndGlyphs" stroke="#3a3a3a" stroke-width="0.3" >GSK126 concentration (µM)</text>
<text x="0" y="0" font-size="9.2" fill="#3a3a3a" stroke="#3a3a3a" stroke-width="0.2" text-anchor="middle" textLength="68" lengthAdjust="spacingAndGlyphs" transform="translate(365.0,253) rotate(-90)">Relative cell survival</text>
<line x1="398.0" y1="238.416" x2="398.0" y2="243.18399999999997" stroke="#a8163c" stroke-width="1.1" />
<line x1="396.0" y1="238.416" x2="400.0" y2="238.416" stroke="#a8163c" stroke-width="1.1" />
<line x1="396.0" y1="243.18399999999997" x2="400.0" y2="243.18399999999997" stroke="#a8163c" stroke-width="1.1" />
<line x1="434.76" y1="233.05199999999996" x2="434.76" y2="235.43599999999998" stroke="#a8163c" stroke-width="1.1" />
<line x1="432.76" y1="233.05199999999996" x2="436.76" y2="233.05199999999996" stroke="#a8163c" stroke-width="1.1" />
<line x1="432.76" y1="235.43599999999998" x2="436.76" y2="235.43599999999998" stroke="#a8163c" stroke-width="1.1" />
<line x1="453.14" y1="234.83999999999997" x2="453.14" y2="238.416" stroke="#a8163c" stroke-width="1.1" />
<line x1="451.14" y1="234.83999999999997" x2="455.14" y2="234.83999999999997" stroke="#a8163c" stroke-width="1.1" />
<line x1="451.14" y1="238.416" x2="455.14" y2="238.416" stroke="#a8163c" stroke-width="1.1" />
<line x1="471.52" y1="232.45599999999996" x2="471.52" y2="236.03199999999998" stroke="#a8163c" stroke-width="1.1" />
<line x1="469.52" y1="232.45599999999996" x2="473.52" y2="232.45599999999996" stroke="#a8163c" stroke-width="1.1" />
<line x1="469.52" y1="236.03199999999998" x2="473.52" y2="236.03199999999998" stroke="#a8163c" stroke-width="1.1" />
<line x1="489.9" y1="219.344" x2="489.9" y2="233.64799999999997" stroke="#a8163c" stroke-width="1.1" />
<line x1="487.9" y1="219.344" x2="491.9" y2="219.344" stroke="#a8163c" stroke-width="1.1" />
<line x1="487.9" y1="233.64799999999997" x2="491.9" y2="233.64799999999997" stroke="#a8163c" stroke-width="1.1" />
<path d="M398.00,240.80 L416.38,237.22 L434.76,234.24 L453.14,236.63 L471.52,234.24 L489.90,226.50" fill="none" stroke="#a8163c" stroke-width="1.7" stroke-linejoin="round"/>
<rect x="396.0" y="238.79999999999998" width="4" height="4" fill="#a8163c"/>
<rect x="414.38" y="235.224" width="4" height="4" fill="#a8163c"/>
<rect x="432.76" y="232.24399999999997" width="4" height="4" fill="#a8163c"/>
<rect x="451.14" y="234.628" width="4" height="4" fill="#a8163c"/>
<rect x="469.52" y="232.24399999999997" width="4" height="4" fill="#a8163c"/>
<rect x="487.9" y="224.49599999999998" width="4" height="4" fill="#a8163c"/>
<line x1="398.0" y1="237.82" x2="398.0" y2="243.77999999999997" stroke="#2c4572" stroke-width="1.1" />
<line x1="396.0" y1="237.82" x2="400.0" y2="237.82" stroke="#2c4572" stroke-width="1.1" />
<line x1="396.0" y1="243.77999999999997" x2="400.0" y2="243.77999999999997" stroke="#2c4572" stroke-width="1.1" />
<line x1="416.38" y1="244.97199999999998" x2="416.38" y2="255.7" stroke="#2c4572" stroke-width="1.1" />
<line x1="414.38" y1="244.97199999999998" x2="418.38" y2="244.97199999999998" stroke="#2c4572" stroke-width="1.1" />
<line x1="414.38" y1="255.7" x2="418.38" y2="255.7" stroke="#2c4572" stroke-width="1.1" />
<line x1="453.14" y1="272.984" x2="453.14" y2="276.56" stroke="#2c4572" stroke-width="1.1" />
<line x1="451.14" y1="272.984" x2="455.14" y2="272.984" stroke="#2c4572" stroke-width="1.1" />
<line x1="451.14" y1="276.56" x2="455.14" y2="276.56" stroke="#2c4572" stroke-width="1.1" />
<line x1="471.52" y1="274.17599999999993" x2="471.52" y2="278.94399999999996" stroke="#2c4572" stroke-width="1.1" />
<line x1="469.52" y1="274.17599999999993" x2="473.52" y2="274.17599999999993" stroke="#2c4572" stroke-width="1.1" />
<line x1="469.52" y1="278.94399999999996" x2="473.52" y2="278.94399999999996" stroke="#2c4572" stroke-width="1.1" />
<path d="M398.00,240.80 L416.38,250.34 L434.76,274.77 L453.14,274.77 L471.52,276.56 L489.90,292.65" fill="none" stroke="#2c4572" stroke-width="1.7" stroke-linejoin="round"/>
<circle cx="398.0" cy="240.79999999999998" r="2" fill="#2c4572"/>
<circle cx="416.38" cy="250.33599999999998" r="2" fill="#2c4572"/>
<circle cx="434.76" cy="274.772" r="2" fill="#2c4572"/>
<circle cx="453.14" cy="274.772" r="2" fill="#2c4572"/>
<circle cx="471.52" cy="276.55999999999995" r="2" fill="#2c4572"/>
<circle cx="489.9" cy="292.652" r="2" fill="#2c4572"/>
<line x1="379.3" y1="198.7" x2="388.90000000000003" y2="198.7" stroke="#2c4572" stroke-width="1.6" />
<circle cx="384.1" cy="198.7" r="2.0" fill="#2c4572"/>
<text x="392.4" y="201.29999999999998" font-size="7.3" fill="#3a3a3a" text-anchor="start" font-weight="normal" textLength="51.2" lengthAdjust="spacingAndGlyphs" stroke="#3a3a3a" stroke-width="0.3" >KARPAS-422-P</text>
<line x1="448" y1="198.7" x2="458" y2="198.7" stroke="#a8163c" stroke-width="1.6" />
<rect x="451" y="196.7" width="4" height="4" fill="#a8163c"/>
<text x="458.5" y="201.29999999999998" font-size="7.3" fill="#3a3a3a" text-anchor="start" font-weight="normal" textLength="52.3" lengthAdjust="spacingAndGlyphs" stroke="#3a3a3a" stroke-width="0.3" >KARPAS-422-R</text>
<line x1="501.4" y1="225.6" x2="501.4" y2="292.9" stroke="#0a0a0a" stroke-width="1.35" />
<text x="0" y="0" font-size="8.6" font-weight="bold" fill="#1a1a1a" text-anchor="middle" textLength="9.6" lengthAdjust="spacingAndGlyphs" transform="translate(503.4,258.5) rotate(90)">***</text>
<line x1="50.5" y1="373.52" x2="50.5" y2="461.2" stroke="#1a1a1a" stroke-width="1.6" />
<line x1="48.0" y1="460.5" x2="162.7" y2="460.5" stroke="#1a1a1a" stroke-width="1.6" />
<line x1="47.0" y1="376.82" x2="50.5" y2="376.82" stroke="#1a1a1a" stroke-width="1.2" />
<text x="44.7" y="379.21999999999997" font-size="8.7" fill="#3a3a3a" text-anchor="end" font-weight="normal" textLength="9.0" lengthAdjust="spacingAndGlyphs" stroke="#3a3a3a" stroke-width="0.3" >80</text>
<line x1="47.0" y1="397.74" x2="50.5" y2="397.74" stroke="#1a1a1a" stroke-width="1.2" />
<text x="44.7" y="400.14" font-size="8.7" fill="#3a3a3a" text-anchor="end" font-weight="normal" textLength="9.0" lengthAdjust="spacingAndGlyphs" stroke="#3a3a3a" stroke-width="0.3" >60</text>
<line x1="47.0" y1="418.65999999999997" x2="50.5" y2="418.65999999999997" stroke="#1a1a1a" stroke-width="1.2" />
<text x="44.7" y="421.05999999999995" font-size="8.7" fill="#3a3a3a" text-anchor="end" font-weight="normal" textLength="9.0" lengthAdjust="spacingAndGlyphs" stroke="#3a3a3a" stroke-width="0.3" >40</text>
<line x1="47.0" y1="439.58" x2="50.5" y2="439.58" stroke="#1a1a1a" stroke-width="1.2" />
<text x="44.7" y="441.97999999999996" font-size="8.7" fill="#3a3a3a" text-anchor="end" font-weight="normal" textLength="9.0" lengthAdjust="spacingAndGlyphs" stroke="#3a3a3a" stroke-width="0.3" >20</text>
<line x1="47.0" y1="460.5" x2="50.5" y2="460.5" stroke="#1a1a1a" stroke-width="1.2" />
<text x="44.7" y="462.9" font-size="8.7" fill="#3a3a3a" text-anchor="end" font-weight="normal" textLength="4.4" lengthAdjust="spacingAndGlyphs" stroke="#3a3a3a" stroke-width="0.3" >0</text>
<rect x="57" y="437.70" width="13.00" height="22.80" fill="#2c4a82"/>
<line x1="59.5" y1="437.6972" x2="67.5" y2="437.6972" stroke="#2a2030" stroke-width="1.2" />
<rect x="73.8" y="414.79" width="13.00" height="45.71" fill="#5a6ea6"/>
<line x1="76.3" y1="414.7898" x2="84.3" y2="414.7898" stroke="#2a2030" stroke-width="1.2" />
<rect x="89.9" y="397.01" width="13.10" height="63.49" fill="#8c99c6"/>
<line x1="92.4" y1="397.0078" x2="100.5" y2="397.0078" stroke="#2a2030" stroke-width="1.2" />
<rect x="109.9" y="439.58" width="13.30" height="20.92" fill="#b2102f"/>
<line x1="112.4" y1="439.58" x2="120.7" y2="439.58" stroke="#2a2030" stroke-width="1.2" />
<rect x="126.3" y="425.98" width="13.40" height="34.52" fill="#c65c50"/>
<line x1="128.8" y1="425.98199999999997" x2="137.2" y2="425.98199999999997" stroke="#2a2030" stroke-width="1.2" />
<rect x="142.8" y="415.52" width="13.50" height="44.98" fill="#d8917f"/>
<line x1="145.3" y1="415.522" x2="153.8" y2="415.522" stroke="#2a2030" stroke-width="1.2" />
<line x1="62.6" y1="411.4" x2="79" y2="411.4" stroke="#1a1a1a" stroke-width="1.3" />
<text x="71.0" y="410.9" font-size="7.6" fill="#1a1a1a" text-anchor="middle" font-weight="bold" textLength="9.4" lengthAdjust="spacingAndGlyphs" stroke="#1a1a1a" stroke-width="0.1" >***</text>
<line x1="62.6" y1="392.3" x2="96" y2="392.3" stroke="#1a1a1a" stroke-width="1.3" />
<text x="79.0" y="391.8" font-size="7.6" fill="#1a1a1a" text-anchor="middle" font-weight="bold" textLength="9.4" lengthAdjust="spacingAndGlyphs" stroke="#1a1a1a" stroke-width="0.1" >***</text>
<path d="M81.6,383.7 L133.3,383.7 L133.3,424.7" fill="none" stroke="#1a1a1a" stroke-width="1.3"/>
<text x="107.3" y="383.2" font-size="7.6" fill="#1a1a1a" text-anchor="middle" font-weight="bold" textLength="9.4" lengthAdjust="spacingAndGlyphs" stroke="#1a1a1a" stroke-width="0.1" >***</text>
<path d="M97.2,372.8 L150.6,372.8 L150.6,414.3" fill="none" stroke="#1a1a1a" stroke-width="1.3"/>
<text x="123.7" y="372.3" font-size="7.6" fill="#1a1a1a" text-anchor="middle" font-weight="bold" textLength="9.4" lengthAdjust="spacingAndGlyphs" stroke="#1a1a1a" stroke-width="0.1" >***</text>
<text x="0" y="0" font-size="8.8" fill="#3a3a3a" stroke="#3a3a3a" stroke-width="0.25" text-anchor="middle" textLength="89" lengthAdjust="spacingAndGlyphs" transform="translate(29.0,416.2) rotate(-90)">% Annexin V positive cells</text>
<text x="16.0" y="475.3" font-size="8.4" fill="#3a3a3a" text-anchor="start" font-weight="normal" textLength="31.7" lengthAdjust="spacingAndGlyphs" stroke="#3a3a3a" stroke-width="0.3" >GSK126:</text>
<text x="63.5" y="471.0" font-size="8.2" fill="#3a3a3a" text-anchor="middle" font-weight="normal" textLength="4.2" lengthAdjust="spacingAndGlyphs" stroke="#3a3a3a" stroke-width="0.3" >0</text>
<text x="80.1" y="471.0" font-size="8.2" fill="#3a3a3a" text-anchor="middle" font-weight="normal" textLength="9.0" lengthAdjust="spacingAndGlyphs" stroke="#3a3a3a" stroke-width="0.3" >3d</text>
<text x="96.6" y="471.0" font-size="8.2" fill="#3a3a3a" text-anchor="middle" font-weight="normal" textLength="14.6" lengthAdjust="spacingAndGlyphs" stroke="#3a3a3a" stroke-width="0.3" >10d</text>
<text x="116.5" y="471.0" font-size="8.2" fill="#3a3a3a" text-anchor="middle" font-weight="normal" textLength="4.2" lengthAdjust="spacingAndGlyphs" stroke="#3a3a3a" stroke-width="0.3" >0</text>
<text x="133.1" y="471.0" font-size="8.2" fill="#3a3a3a" text-anchor="middle" font-weight="normal" textLength="9.0" lengthAdjust="spacingAndGlyphs" stroke="#3a3a3a" stroke-width="0.3" >3d</text>
<text x="150" y="471.0" font-size="8.2" fill="#3a3a3a" text-anchor="middle" font-weight="normal" textLength="14.6" lengthAdjust="spacingAndGlyphs" stroke="#3a3a3a" stroke-width="0.3" >10d</text>
<line x1="59.2" y1="474.5" x2="106.7" y2="474.5" stroke="#1a1a1a" stroke-width="1.3" />
<line x1="113.5" y1="474.5" x2="160.6" y2="474.5" stroke="#1a1a1a" stroke-width="1.3" />
<text x="83.2" y="484.6" font-size="8.3" fill="#3a3a3a" text-anchor="middle" font-weight="normal" textLength="49" lengthAdjust="spacingAndGlyphs" stroke="#3a3a3a" stroke-width="0.3" >SU-DHL-10-P</text>
<text x="137.3" y="484.6" font-size="8.3" fill="#3a3a3a" text-anchor="middle" font-weight="normal" textLength="49.1" lengthAdjust="spacingAndGlyphs" stroke="#3a3a3a" stroke-width="0.3" >SU-DHL-10-R</text>
<line x1="217.0" y1="373.06" x2="217.0" y2="460.5" stroke="#1a1a1a" stroke-width="1.6" />
<line x1="214.5" y1="459.8" x2="329.7" y2="459.8" stroke="#1a1a1a" stroke-width="1.6" />
<line x1="213.5" y1="376.36" x2="217.0" y2="376.36" stroke="#1a1a1a" stroke-width="1.2" />
<text x="211.2" y="378.76" font-size="8.7" fill="#3a3a3a" text-anchor="end" font-weight="normal" textLength="9.0" lengthAdjust="spacingAndGlyphs" stroke="#3a3a3a" stroke-width="0.3" >80</text>
<line x1="213.5" y1="397.22" x2="217.0" y2="397.22" stroke="#1a1a1a" stroke-width="1.2" />
<text x="211.2" y="399.62" font-size="8.7" fill="#3a3a3a" text-anchor="end" font-weight="normal" textLength="9.0" lengthAdjust="spacingAndGlyphs" stroke="#3a3a3a" stroke-width="0.3" >60</text>
<line x1="213.5" y1="418.08000000000004" x2="217.0" y2="418.08000000000004" stroke="#1a1a1a" stroke-width="1.2" />
<text x="211.2" y="420.48" font-size="8.7" fill="#3a3a3a" text-anchor="end" font-weight="normal" textLength="9.0" lengthAdjust="spacingAndGlyphs" stroke="#3a3a3a" stroke-width="0.3" >40</text>
<line x1="213.5" y1="438.94" x2="217.0" y2="438.94" stroke="#1a1a1a" stroke-width="1.2" />
<text x="211.2" y="441.34" font-size="8.7" fill="#3a3a3a" text-anchor="end" font-weight="normal" textLength="9.0" lengthAdjust="spacingAndGlyphs" stroke="#3a3a3a" stroke-width="0.3" >20</text>
<line x1="213.5" y1="459.8" x2="217.0" y2="459.8" stroke="#1a1a1a" stroke-width="1.2" />
<text x="211.2" y="462.2" font-size="8.7" fill="#3a3a3a" text-anchor="end" font-weight="normal" textLength="4.4" lengthAdjust="spacingAndGlyphs" stroke="#3a3a3a" stroke-width="0.3" >0</text>
<rect x="223.9" y="431.64" width="13.00" height="28.16" fill="#2c4a82"/>
<line x1="226.4" y1="431.639" x2="234.4" y2="431.639" stroke="#2a2030" stroke-width="1.2" />
<rect x="240.4" y="408.69" width="13.50" height="51.11" fill="#5a6ea6"/>
<line x1="242.9" y1="408.693" x2="251.4" y2="408.693" stroke="#2a2030" stroke-width="1.2" />
<rect x="257.3" y="390.96" width="13.30" height="68.84" fill="#8c99c6"/>
<line x1="259.8" y1="390.962" x2="268.1" y2="390.962" stroke="#2a2030" stroke-width="1.2" />
<rect x="277.1" y="431.12" width="13.00" height="28.68" fill="#b2102f"/>
<line x1="279.6" y1="431.1175" x2="287.6" y2="431.1175" stroke="#2a2030" stroke-width="1.2" />
<rect x="293.4" y="422.25" width="13.20" height="37.55" fill="#c65c50"/>
<line x1="295.9" y1="422.252" x2="304.1" y2="422.252" stroke="#2a2030" stroke-width="1.2" />
<rect x="310" y="414.95" width="13.30" height="44.85" fill="#d8917f"/>
<line x1="312.5" y1="414.951" x2="320.8" y2="414.951" stroke="#2a2030" stroke-width="1.2" />
<line x1="232" y1="404.6" x2="249" y2="404.6" stroke="#1a1a1a" stroke-width="1.3" />
<text x="240.5" y="404.1" font-size="7.6" fill="#1a1a1a" text-anchor="middle" font-weight="bold" textLength="9.4" lengthAdjust="spacingAndGlyphs" stroke="#1a1a1a" stroke-width="0.1" >***</text>
<line x1="232" y1="387.7" x2="264.9" y2="387.7" stroke="#1a1a1a" stroke-width="1.3" />
<text x="249" y="387.2" font-size="7.6" fill="#1a1a1a" text-anchor="middle" font-weight="bold" textLength="9.4" lengthAdjust="spacingAndGlyphs" stroke="#1a1a1a" stroke-width="0.1" >***</text>
<path d="M246.4,381 L300.5,381 L300.5,416.4" fill="none" stroke="#1a1a1a" stroke-width="1.3"/>
<text x="273.2" y="380.5" font-size="7.6" fill="#1a1a1a" text-anchor="middle" font-weight="bold" textLength="9.4" lengthAdjust="spacingAndGlyphs" stroke="#1a1a1a" stroke-width="0.1" >***</text>
<path d="M263.7,370.6 L316.4,370.6 L316.4,409.5" fill="none" stroke="#1a1a1a" stroke-width="1.3"/>
<text x="289.6" y="370.1" font-size="7.6" fill="#1a1a1a" text-anchor="middle" font-weight="bold" textLength="9.4" lengthAdjust="spacingAndGlyphs" stroke="#1a1a1a" stroke-width="0.1" >***</text>
<text x="0" y="0" font-size="8.8" fill="#3a3a3a" stroke="#3a3a3a" stroke-width="0.25" text-anchor="middle" textLength="89" lengthAdjust="spacingAndGlyphs" transform="translate(195.0,415.8) rotate(-90)">% Annexin V positive cells</text>
<text x="179.5" y="470.2" font-size="8.4" fill="#3a3a3a" text-anchor="start" font-weight="normal" textLength="32.9" lengthAdjust="spacingAndGlyphs" stroke="#3a3a3a" stroke-width="0.3" >GSK126 :</text>
<text x="230.5" y="470.5" font-size="8.2" fill="#3a3a3a" text-anchor="middle" font-weight="normal" textLength="4.2" lengthAdjust="spacingAndGlyphs" stroke="#3a3a3a" stroke-width="0.3" >0</text>
<text x="247" y="470.5" font-size="8.2" fill="#3a3a3a" text-anchor="middle" font-weight="normal" textLength="9.0" lengthAdjust="spacingAndGlyphs" stroke="#3a3a3a" stroke-width="0.3" >3d</text>
<text x="263.75" y="470.5" font-size="8.2" fill="#3a3a3a" text-anchor="middle" font-weight="normal" textLength="14.6" lengthAdjust="spacingAndGlyphs" stroke="#3a3a3a" stroke-width="0.3" >10d</text>
<text x="283.75" y="470.5" font-size="8.2" fill="#3a3a3a" text-anchor="middle" font-weight="normal" textLength="4.2" lengthAdjust="spacingAndGlyphs" stroke="#3a3a3a" stroke-width="0.3" >0</text>
<text x="300" y="470.5" font-size="8.2" fill="#3a3a3a" text-anchor="middle" font-weight="normal" textLength="9.0" lengthAdjust="spacingAndGlyphs" stroke="#3a3a3a" stroke-width="0.3" >3d</text>
<text x="317.5" y="470.5" font-size="8.2" fill="#3a3a3a" text-anchor="middle" font-weight="normal" textLength="14.6" lengthAdjust="spacingAndGlyphs" stroke="#3a3a3a" stroke-width="0.3" >10d</text>
<line x1="225" y1="473.9" x2="271.25" y2="473.9" stroke="#1a1a1a" stroke-width="1.3" />
<line x1="278.75" y1="473.9" x2="332.5" y2="473.9" stroke="#1a1a1a" stroke-width="1.3" />
<text x="244.6" y="484.8" font-size="8.3" fill="#3a3a3a" text-anchor="middle" font-weight="normal" textLength="56.75" lengthAdjust="spacingAndGlyphs" stroke="#3a3a3a" stroke-width="0.3" >WSU-DLCL-2-P</text>
<text x="307.1" y="484.8" font-size="8.3" fill="#3a3a3a" text-anchor="middle" font-weight="normal" textLength="58.25" lengthAdjust="spacingAndGlyphs" stroke="#3a3a3a" stroke-width="0.3" >WSU-DLCL-2-R</text>
<line x1="389.6" y1="373.52" x2="389.6" y2="461.2" stroke="#1a1a1a" stroke-width="1.6" />
<line x1="387.1" y1="460.5" x2="501.1" y2="460.5" stroke="#1a1a1a" stroke-width="1.6" />
<line x1="386.1" y1="376.82" x2="389.6" y2="376.82" stroke="#1a1a1a" stroke-width="1.2" />
<text x="383.8" y="379.21999999999997" font-size="8.7" fill="#3a3a3a" text-anchor="end" font-weight="normal" textLength="9.0" lengthAdjust="spacingAndGlyphs" stroke="#3a3a3a" stroke-width="0.3" >80</text>
<line x1="386.1" y1="397.74" x2="389.6" y2="397.74" stroke="#1a1a1a" stroke-width="1.2" />
<text x="383.8" y="400.14" font-size="8.7" fill="#3a3a3a" text-anchor="end" font-weight="normal" textLength="9.0" lengthAdjust="spacingAndGlyphs" stroke="#3a3a3a" stroke-width="0.3" >60</text>
<line x1="386.1" y1="418.65999999999997" x2="389.6" y2="418.65999999999997" stroke="#1a1a1a" stroke-width="1.2" />
<text x="383.8" y="421.05999999999995" font-size="8.7" fill="#3a3a3a" text-anchor="end" font-weight="normal" textLength="9.0" lengthAdjust="spacingAndGlyphs" stroke="#3a3a3a" stroke-width="0.3" >40</text>
<line x1="386.1" y1="439.58" x2="389.6" y2="439.58" stroke="#1a1a1a" stroke-width="1.2" />
<text x="383.8" y="441.97999999999996" font-size="8.7" fill="#3a3a3a" text-anchor="end" font-weight="normal" textLength="9.0" lengthAdjust="spacingAndGlyphs" stroke="#3a3a3a" stroke-width="0.3" >20</text>
<line x1="386.1" y1="460.5" x2="389.6" y2="460.5" stroke="#1a1a1a" stroke-width="1.2" />
<text x="383.8" y="462.9" font-size="8.7" fill="#3a3a3a" text-anchor="end" font-weight="normal" textLength="4.4" lengthAdjust="spacingAndGlyphs" stroke="#3a3a3a" stroke-width="0.3" >0</text>
<rect x="396.2" y="438.01" width="12.80" height="22.49" fill="#2c4a82"/>
<line x1="398.7" y1="438.011" x2="406.5" y2="438.011" stroke="#2a2030" stroke-width="1.2" />
<rect x="412.6" y="412.38" width="13.00" height="48.12" fill="#5a6ea6"/>
<line x1="415.1" y1="412.384" x2="423.1" y2="412.384" stroke="#2a2030" stroke-width="1.2" />
<rect x="429" y="397.74" width="13.00" height="62.76" fill="#8c99c6"/>
<line x1="431.5" y1="397.74" x2="439.5" y2="397.74" stroke="#2a2030" stroke-width="1.2" />
<rect x="448.4" y="435.40" width="13.50" height="25.10" fill="#b2102f"/>
<line x1="450.9" y1="435.396" x2="459.4" y2="435.396" stroke="#2a2030" stroke-width="1.2" />
<rect x="465.1" y="425.98" width="13.50" height="34.52" fill="#c65c50"/>
<line x1="467.6" y1="425.98199999999997" x2="476.1" y2="425.98199999999997" stroke="#2a2030" stroke-width="1.2" />
<rect x="481.7" y="419.18" width="13.40" height="41.32" fill="#d8917f"/>
<line x1="484.2" y1="419.183" x2="492.6" y2="419.183" stroke="#2a2030" stroke-width="1.2" />
<line x1="401.4" y1="408.6" x2="418.7" y2="408.6" stroke="#1a1a1a" stroke-width="1.3" />
<text x="410" y="408.1" font-size="7.6" fill="#1a1a1a" text-anchor="middle" font-weight="bold" textLength="9.4" lengthAdjust="spacingAndGlyphs" stroke="#1a1a1a" stroke-width="0.1" >***</text>
<line x1="401.4" y1="394.4" x2="435.4" y2="394.4" stroke="#1a1a1a" stroke-width="1.3" />
<text x="418.4" y="393.9" font-size="7.6" fill="#1a1a1a" text-anchor="middle" font-weight="bold" textLength="9.4" lengthAdjust="spacingAndGlyphs" stroke="#1a1a1a" stroke-width="0.1" >***</text>
<path d="M418.1,387.2 L472.9,387.2 L472.9,422.3" fill="none" stroke="#1a1a1a" stroke-width="1.3"/>
<text x="445.8" y="386.7" font-size="7.6" fill="#1a1a1a" text-anchor="middle" font-weight="bold" textLength="9.4" lengthAdjust="spacingAndGlyphs" stroke="#1a1a1a" stroke-width="0.1" >***</text>
<path d="M434.6,377.3 L490.2,377.3 L490.2,416.2" fill="none" stroke="#1a1a1a" stroke-width="1.3"/>
<text x="462.2" y="376.8" font-size="7.6" fill="#1a1a1a" text-anchor="middle" font-weight="bold" textLength="9.4" lengthAdjust="spacingAndGlyphs" stroke="#1a1a1a" stroke-width="0.1" >***</text>
<text x="0" y="0" font-size="8.8" fill="#3a3a3a" stroke="#3a3a3a" stroke-width="0.25" text-anchor="middle" textLength="89" lengthAdjust="spacingAndGlyphs" transform="translate(368.0,416.2) rotate(-90)">% Annexin V positive cells</text>
<text x="354.2" y="471.1" font-size="8.4" fill="#3a3a3a" text-anchor="start" font-weight="normal" textLength="34.3" lengthAdjust="spacingAndGlyphs" stroke="#3a3a3a" stroke-width="0.3" >GSK126 :</text>
<text x="402.3" y="470.9" font-size="8.2" fill="#3a3a3a" text-anchor="middle" font-weight="normal" textLength="4.2" lengthAdjust="spacingAndGlyphs" stroke="#3a3a3a" stroke-width="0.3" >0</text>
<text x="418.3" y="470.9" font-size="8.2" fill="#3a3a3a" text-anchor="middle" font-weight="normal" textLength="9.0" lengthAdjust="spacingAndGlyphs" stroke="#3a3a3a" stroke-width="0.3" >3d</text>
<text x="435.6" y="470.9" font-size="8.2" fill="#3a3a3a" text-anchor="middle" font-weight="normal" textLength="14.6" lengthAdjust="spacingAndGlyphs" stroke="#3a3a3a" stroke-width="0.3" >10d</text>
<text x="455.9" y="470.9" font-size="8.2" fill="#3a3a3a" text-anchor="middle" font-weight="normal" textLength="4.2" lengthAdjust="spacingAndGlyphs" stroke="#3a3a3a" stroke-width="0.3" >0</text>
<text x="471.6" y="470.9" font-size="8.2" fill="#3a3a3a" text-anchor="middle" font-weight="normal" textLength="9.0" lengthAdjust="spacingAndGlyphs" stroke="#3a3a3a" stroke-width="0.3" >3d</text>
<text x="487.8" y="470.9" font-size="8.2" fill="#3a3a3a" text-anchor="middle" font-weight="normal" textLength="14.6" lengthAdjust="spacingAndGlyphs" stroke="#3a3a3a" stroke-width="0.3" >10d</text>
<line x1="395.2" y1="474.3" x2="442.3" y2="474.3" stroke="#1a1a1a" stroke-width="1.3" />
<line x1="449.2" y1="474.3" x2="496.3" y2="474.3" stroke="#1a1a1a" stroke-width="1.3" />
<text x="415" y="484.4" font-size="8.3" fill="#3a3a3a" text-anchor="middle" font-weight="normal" textLength="54" lengthAdjust="spacingAndGlyphs" stroke="#3a3a3a" stroke-width="0.3" >KARPAS-422-P</text>
<text x="475.3" y="484.4" font-size="8.3" fill="#3a3a3a" text-anchor="middle" font-weight="normal" textLength="54.6" lengthAdjust="spacingAndGlyphs" stroke="#3a3a3a" stroke-width="0.3" >KARPAS-422-R</text>
<defs><filter id="bl" filterUnits="userSpaceOnUse" x="0" y="490" width="520" height="190"><feGaussianBlur stdDeviation="0.5"/></filter><filter id="bl2" filterUnits="userSpaceOnUse" x="0" y="490" width="520" height="190"><feGaussianBlur stdDeviation="2"/></filter><clipPath id="noclip"><rect x="0" y="0" width="520" height="681"/></clipPath></defs>
<clipPath id="cb1"><rect x="70.4" y="569.2" width="44.19999999999999" height="18.399999999999977"/></clipPath>
<g clip-path="url(#cb1)">
<rect x="69.4" y="568.2" width="46.19999999999999" height="20.399999999999977" fill="#e3e3e3"/>
<path d="M73.80,576.30 L86.70,576.30" fill="none" stroke="#151515" stroke-opacity="0.11" stroke-width="6.6" stroke-linecap="round" filter="url(#bl2)"/>
<path d="M73.80,576.30 L86.70,576.30" fill="none" stroke="#151515" stroke-opacity="0.35" stroke-width="2.6" stroke-linecap="round" filter="url(#bl)"/>
<path d="M74.00,581.60 L86.50,581.60" fill="none" stroke="#151515" stroke-opacity="0.26" stroke-width="7.0" stroke-linecap="round" filter="url(#bl2)"/>
<path d="M74.00,581.60 L86.50,581.60" fill="none" stroke="#151515" stroke-opacity="0.8" stroke-width="3.0" stroke-linecap="round" filter="url(#bl)"/>
<path d="M96.50,576.50 L110.60,576.50" fill="none" stroke="#151515" stroke-opacity="0.27" stroke-width="7.4" stroke-linecap="round" filter="url(#bl2)"/>
<path d="M96.50,576.50 L110.60,576.50" fill="none" stroke="#151515" stroke-opacity="0.85" stroke-width="3.4" stroke-linecap="round" filter="url(#bl)"/>
<path d="M96.90,581.80 L110.20,581.80" fill="none" stroke="#151515" stroke-opacity="0.32" stroke-width="8.2" stroke-linecap="round" filter="url(#bl2)"/>
<path d="M96.90,581.80 L110.20,581.80" fill="none" stroke="#151515" stroke-opacity="1.0" stroke-width="4.2" stroke-linecap="round" filter="url(#bl)"/>
</g>
<rect x="70.10000000000001" y="568.9000000000001" width="44.79999999999999" height="18.99999999999998" fill="none" stroke="#1e1e1e" stroke-width="1.35"/>
<clipPath id="cb2"><rect x="120.2" y="569.2" width="44.2" height="18.399999999999977"/></clipPath>
<g clip-path="url(#cb2)">
<rect x="119.2" y="568.2" width="46.2" height="20.399999999999977" fill="#e3e3e3"/>
<path d="M124.30,577.20 L136.20,577.20" fill="none" stroke="#151515" stroke-opacity="0.16" stroke-width="6.6" stroke-linecap="round" filter="url(#bl2)"/>
<path d="M124.30,577.20 L136.20,577.20" fill="none" stroke="#151515" stroke-opacity="0.5" stroke-width="2.6" stroke-linecap="round" filter="url(#bl)"/>
<path d="M124.50,581.30 L136.00,581.30" fill="none" stroke="#151515" stroke-opacity="0.27" stroke-width="7.0" stroke-linecap="round" filter="url(#bl2)"/>
<path d="M124.50,581.30 L136.00,581.30" fill="none" stroke="#151515" stroke-opacity="0.85" stroke-width="3.0" stroke-linecap="round" filter="url(#bl)"/>
<path d="M144.20,577.00 L161.10,577.00" fill="none" stroke="#151515" stroke-opacity="0.29" stroke-width="7.8" stroke-linecap="round" filter="url(#bl2)"/>
<path d="M144.20,577.00 L161.10,577.00" fill="none" stroke="#151515" stroke-opacity="0.9" stroke-width="3.8" stroke-linecap="round" filter="url(#bl)"/>
<path d="M144.40,581.50 L160.90,581.50" fill="none" stroke="#151515" stroke-opacity="0.32" stroke-width="8.2" stroke-linecap="round" filter="url(#bl2)"/>
<path d="M144.40,581.50 L160.90,581.50" fill="none" stroke="#151515" stroke-opacity="1.0" stroke-width="4.2" stroke-linecap="round" filter="url(#bl)"/>
</g>
<rect x="119.9" y="568.9000000000001" width="44.800000000000004" height="18.99999999999998" fill="none" stroke="#1e1e1e" stroke-width="1.35"/>
<clipPath id="cb3"><rect x="171.2" y="569.2" width="44.0" height="18.399999999999977"/></clipPath>
<g clip-path="url(#cb3)">
<rect x="170.2" y="568.2" width="46.0" height="20.399999999999977" fill="#e3e3e3"/>
<path d="M175.75,577.50 L186.75,577.50" fill="none" stroke="#151515" stroke-opacity="0.16" stroke-width="6.5" stroke-linecap="round" filter="url(#bl2)"/>
<path d="M175.75,577.50 L186.75,577.50" fill="none" stroke="#151515" stroke-opacity="0.5" stroke-width="2.5" stroke-linecap="round" filter="url(#bl)"/>
<path d="M176.00,581.00 L186.50,581.00" fill="none" stroke="#151515" stroke-opacity="0.27" stroke-width="7.0" stroke-linecap="round" filter="url(#bl2)"/>
<path d="M176.00,581.00 L186.50,581.00" fill="none" stroke="#151515" stroke-opacity="0.85" stroke-width="3.0" stroke-linecap="round" filter="url(#bl)"/>
<path d="M195.50,576.60 L210.80,576.60" fill="none" stroke="#151515" stroke-opacity="0.29" stroke-width="8.0" stroke-linecap="round" filter="url(#bl2)"/>
<path d="M195.50,576.60 L210.80,576.60" fill="none" stroke="#151515" stroke-opacity="0.9" stroke-width="4.0" stroke-linecap="round" filter="url(#bl)"/>
<path d="M195.70,580.60 L210.60,580.60" fill="none" stroke="#151515" stroke-opacity="0.32" stroke-width="8.4" stroke-linecap="round" filter="url(#bl2)"/>
<path d="M195.70,580.60 L210.60,580.60" fill="none" stroke="#151515" stroke-opacity="1.0" stroke-width="4.4" stroke-linecap="round" filter="url(#bl)"/>
</g>
<rect x="170.89999999999998" y="568.9000000000001" width="44.6" height="18.99999999999998" fill="none" stroke="#1e1e1e" stroke-width="1.35"/>
<clipPath id="cb4"><rect x="70.4" y="593.4" width="44.19999999999999" height="18.800000000000068"/></clipPath>
<g clip-path="url(#cb4)">
<rect x="69.4" y="592.4" width="46.19999999999999" height="20.800000000000068" fill="#e3e3e3"/>
<path d="M73.70,600.60 L88.30,600.60" fill="none" stroke="#151515" stroke-opacity="0.30" stroke-width="7.4" stroke-linecap="round" filter="url(#bl2)"/>
<path d="M73.70,600.60 L88.30,600.60" fill="none" stroke="#151515" stroke-opacity="0.95" stroke-width="3.4" stroke-linecap="round" filter="url(#bl)"/>
<path d="M73.50,604.80 L88.50,604.80" fill="none" stroke="#151515" stroke-opacity="0.22" stroke-width="7.0" stroke-linecap="round" filter="url(#bl2)"/>
<path d="M73.50,604.80 L88.50,604.80" fill="none" stroke="#151515" stroke-opacity="0.7" stroke-width="3.0" stroke-linecap="round" filter="url(#bl)"/>
<path d="M95.30,600.80 L111.20,600.80" fill="none" stroke="#151515" stroke-opacity="0.19" stroke-width="6.6" stroke-linecap="round" filter="url(#bl2)"/>
<path d="M95.30,600.80 L111.20,600.80" fill="none" stroke="#151515" stroke-opacity="0.6" stroke-width="2.6" stroke-linecap="round" filter="url(#bl)"/>
<path d="M95.40,604.90 L111.10,604.90" fill="none" stroke="#151515" stroke-opacity="0.21" stroke-width="6.8" stroke-linecap="round" filter="url(#bl2)"/>
<path d="M95.40,604.90 L111.10,604.90" fill="none" stroke="#151515" stroke-opacity="0.65" stroke-width="2.8" stroke-linecap="round" filter="url(#bl)"/>
</g>
<rect x="70.10000000000001" y="593.1" width="44.79999999999999" height="19.40000000000007" fill="none" stroke="#1e1e1e" stroke-width="1.35"/>
<clipPath id="cb5"><rect x="120.2" y="593.4" width="44.2" height="18.800000000000068"/></clipPath>
<g clip-path="url(#cb5)">
<rect x="119.2" y="592.4" width="46.2" height="20.800000000000068" fill="#e3e3e3"/>
<path d="M124.00,600.20 L139.00,600.20" fill="none" stroke="#151515" stroke-opacity="0.27" stroke-width="7.0" stroke-linecap="round" filter="url(#bl2)"/>
<path d="M124.00,600.20 L139.00,600.20" fill="none" stroke="#151515" stroke-opacity="0.85" stroke-width="3.0" stroke-linecap="round" filter="url(#bl)"/>
<path d="M124.20,604.40 L138.80,604.40" fill="none" stroke="#151515" stroke-opacity="0.29" stroke-width="7.4" stroke-linecap="round" filter="url(#bl2)"/>
<path d="M124.20,604.40 L138.80,604.40" fill="none" stroke="#151515" stroke-opacity="0.9" stroke-width="3.4" stroke-linecap="round" filter="url(#bl)"/>
<path d="M145.50,600.20 L161.00,600.20" fill="none" stroke="#151515" stroke-opacity="0.27" stroke-width="7.0" stroke-linecap="round" filter="url(#bl2)"/>
<path d="M145.50,600.20 L161.00,600.20" fill="none" stroke="#151515" stroke-opacity="0.85" stroke-width="3.0" stroke-linecap="round" filter="url(#bl)"/>
<path d="M145.70,604.40 L160.80,604.40" fill="none" stroke="#151515" stroke-opacity="0.29" stroke-width="7.4" stroke-linecap="round" filter="url(#bl2)"/>
<path d="M145.70,604.40 L160.80,604.40" fill="none" stroke="#151515" stroke-opacity="0.9" stroke-width="3.4" stroke-linecap="round" filter="url(#bl)"/>
</g>
<rect x="119.9" y="593.1" width="44.800000000000004" height="19.40000000000007" fill="none" stroke="#1e1e1e" stroke-width="1.35"/>
<clipPath id="cb6"><rect x="171.2" y="593.4" width="44.0" height="18.800000000000068"/></clipPath>
<g clip-path="url(#cb6)">
<rect x="170.2" y="592.4" width="46.0" height="20.800000000000068" fill="#e3e3e3"/>
<path d="M175.50,600.50 L189.00,600.50" fill="none" stroke="#151515" stroke-opacity="0.24" stroke-width="7.0" stroke-linecap="round" filter="url(#bl2)"/>
<path d="M175.50,600.50 L189.00,600.50" fill="none" stroke="#151515" stroke-opacity="0.75" stroke-width="3.0" stroke-linecap="round" filter="url(#bl)"/>
<path d="M175.70,604.50 L188.80,604.50" fill="none" stroke="#151515" stroke-opacity="0.29" stroke-width="7.4" stroke-linecap="round" filter="url(#bl2)"/>
<path d="M175.70,604.50 L188.80,604.50" fill="none" stroke="#151515" stroke-opacity="0.9" stroke-width="3.4" stroke-linecap="round" filter="url(#bl)"/>
<path d="M196.90,600.50 L211.10,600.50" fill="none" stroke="#151515" stroke-opacity="0.22" stroke-width="6.8" stroke-linecap="round" filter="url(#bl2)"/>
<path d="M196.90,600.50 L211.10,600.50" fill="none" stroke="#151515" stroke-opacity="0.7" stroke-width="2.8" stroke-linecap="round" filter="url(#bl)"/>
<path d="M197.20,604.50 L210.80,604.50" fill="none" stroke="#151515" stroke-opacity="0.29" stroke-width="7.4" stroke-linecap="round" filter="url(#bl2)"/>
<path d="M197.20,604.50 L210.80,604.50" fill="none" stroke="#151515" stroke-opacity="0.9" stroke-width="3.4" stroke-linecap="round" filter="url(#bl)"/>
</g>
<rect x="170.89999999999998" y="593.1" width="44.6" height="19.40000000000007" fill="none" stroke="#1e1e1e" stroke-width="1.35"/>
<clipPath id="cb7"><rect x="70.4" y="624.2" width="44.19999999999999" height="16.299999999999955"/></clipPath>
<g clip-path="url(#cb7)">
<rect x="69.4" y="623.2" width="46.19999999999999" height="18.299999999999955" fill="#e3e3e3"/>
<path d="M78.20,632.50 L84.30,632.50" fill="none" stroke="#151515" stroke-opacity="0.19" stroke-width="7.4" stroke-linecap="round" filter="url(#bl2)"/>
<path d="M78.20,632.50 L84.30,632.50" fill="none" stroke="#151515" stroke-opacity="0.6" stroke-width="3.4" stroke-linecap="round" filter="url(#bl)"/>
<path d="M95.50,632.60 L110.50,632.60" fill="none" stroke="#151515" stroke-opacity="0.30" stroke-width="9.0" stroke-linecap="round" filter="url(#bl2)"/>
<path d="M95.50,632.60 L110.50,632.60" fill="none" stroke="#151515" stroke-opacity="0.95" stroke-width="5.0" stroke-linecap="round" filter="url(#bl)"/>
</g>
<rect x="70.10000000000001" y="623.9000000000001" width="44.79999999999999" height="16.899999999999956" fill="none" stroke="#1e1e1e" stroke-width="1.35"/>
<clipPath id="cb8"><rect x="120.2" y="624.2" width="44.2" height="16.299999999999955"/></clipPath>
<g clip-path="url(#cb8)">
<rect x="119.2" y="623.2" width="46.2" height="18.299999999999955" fill="#e3e3e3"/>
<path d="M125.60,632.40 L135.50,632.40" fill="none" stroke="#151515" stroke-opacity="0.24" stroke-width="7.4" stroke-linecap="round" filter="url(#bl2)"/>
<path d="M125.60,632.40 L135.50,632.40" fill="none" stroke="#151515" stroke-opacity="0.75" stroke-width="3.4" stroke-linecap="round" filter="url(#bl)"/>
<path d="M144.20,632.10 L159.60,632.10" fill="none" stroke="#151515" stroke-opacity="0.30" stroke-width="9.0" stroke-linecap="round" filter="url(#bl2)"/>
<path d="M144.20,632.10 L159.60,632.10" fill="none" stroke="#151515" stroke-opacity="0.95" stroke-width="5.0" stroke-linecap="round" filter="url(#bl)"/>
</g>
<rect x="119.9" y="623.9000000000001" width="44.800000000000004" height="16.899999999999956" fill="none" stroke="#1e1e1e" stroke-width="1.35"/>
<clipPath id="cb9"><rect x="171.2" y="624.2" width="44.0" height="16.299999999999955"/></clipPath>
<g clip-path="url(#cb9)">
<rect x="170.2" y="623.2" width="46.0" height="18.299999999999955" fill="#e3e3e3"/>
<path d="M173.70,631.60 L183.70,631.60" fill="none" stroke="#151515" stroke-opacity="0.24" stroke-width="6.6" stroke-linecap="round" filter="url(#bl2)"/>
<path d="M173.70,631.60 L183.70,631.60" fill="none" stroke="#151515" stroke-opacity="0.75" stroke-width="2.6" stroke-linecap="round" filter="url(#bl)"/>
<path d="M196.50,631.60 L210.70,631.60" fill="none" stroke="#151515" stroke-opacity="0.30" stroke-width="8.6" stroke-linecap="round" filter="url(#bl2)"/>
<path d="M196.50,631.60 L210.70,631.60" fill="none" stroke="#151515" stroke-opacity="0.95" stroke-width="4.6" stroke-linecap="round" filter="url(#bl)"/>
</g>
<rect x="170.89999999999998" y="623.9000000000001" width="44.6" height="16.899999999999956" fill="none" stroke="#1e1e1e" stroke-width="1.35"/>
<clipPath id="cb10"><rect x="70.4" y="646.3" width="44.19999999999999" height="16.200000000000045"/></clipPath>
<g clip-path="url(#cb10)">
<rect x="69.4" y="645.3" width="46.19999999999999" height="18.200000000000045" fill="#e3e3e3"/>
<path d="M74.00,652.60 L87.50,652.60" fill="none" stroke="#151515" stroke-opacity="0.29" stroke-width="9.0" stroke-linecap="round" filter="url(#bl2)"/>
<path d="M74.00,652.60 L87.50,652.60" fill="none" stroke="#151515" stroke-opacity="0.92" stroke-width="5.0" stroke-linecap="round" filter="url(#bl)"/>
<path d="M97.50,652.60 L110.50,652.60" fill="none" stroke="#151515" stroke-opacity="0.29" stroke-width="9.0" stroke-linecap="round" filter="url(#bl2)"/>
<path d="M97.50,652.60 L110.50,652.60" fill="none" stroke="#151515" stroke-opacity="0.92" stroke-width="5.0" stroke-linecap="round" filter="url(#bl)"/>
</g>
<rect x="70.10000000000001" y="646.0" width="44.79999999999999" height="16.800000000000047" fill="none" stroke="#1e1e1e" stroke-width="1.35"/>
<clipPath id="cb11"><rect x="120.2" y="646.3" width="44.2" height="16.200000000000045"/></clipPath>
<g clip-path="url(#cb11)">
<rect x="119.2" y="645.3" width="46.2" height="18.200000000000045" fill="#e3e3e3"/>
<path d="M123.50,653.20 L137.30,653.20" fill="none" stroke="#151515" stroke-opacity="0.30" stroke-width="9.0" stroke-linecap="round" filter="url(#bl2)"/>
<path d="M123.50,653.20 L137.30,653.20" fill="none" stroke="#151515" stroke-opacity="0.95" stroke-width="5.0" stroke-linecap="round" filter="url(#bl)"/>
<path d="M146.30,653.30 L160.10,653.30" fill="none" stroke="#151515" stroke-opacity="0.27" stroke-width="8.0" stroke-linecap="round" filter="url(#bl2)"/>
<path d="M146.30,653.30 L160.10,653.30" fill="none" stroke="#151515" stroke-opacity="0.85" stroke-width="4.0" stroke-linecap="round" filter="url(#bl)"/>
</g>
<rect x="119.9" y="646.0" width="44.800000000000004" height="16.800000000000047" fill="none" stroke="#1e1e1e" stroke-width="1.35"/>
<clipPath id="cb12"><rect x="171.2" y="646.3" width="44.0" height="16.200000000000045"/></clipPath>
<g clip-path="url(#cb12)">
<rect x="170.2" y="645.3" width="46.0" height="18.200000000000045" fill="#e3e3e3"/>
<path d="M173.90,653.20 L186.80,653.20" fill="none" stroke="#151515" stroke-opacity="0.29" stroke-width="9.0" stroke-linecap="round" filter="url(#bl2)"/>
<path d="M173.90,653.20 L186.80,653.20" fill="none" stroke="#151515" stroke-opacity="0.92" stroke-width="5.0" stroke-linecap="round" filter="url(#bl)"/>
<path d="M198.20,653.30 L211.00,653.30" fill="none" stroke="#151515" stroke-opacity="0.27" stroke-width="8.0" stroke-linecap="round" filter="url(#bl2)"/>
<path d="M198.20,653.30 L211.00,653.30" fill="none" stroke="#151515" stroke-opacity="0.85" stroke-width="4.0" stroke-linecap="round" filter="url(#bl)"/>
</g>
<rect x="170.89999999999998" y="646.0" width="44.6" height="16.800000000000047" fill="none" stroke="#1e1e1e" stroke-width="1.35"/>
<line x1="75" y1="550.6" x2="110.5" y2="550.6" stroke="#1a1a1a" stroke-width="1.3" />
<text x="79.5" y="562.5" font-size="8.7" fill="#404040" text-anchor="middle" font-weight="normal" stroke="#404040" stroke-width="0.1" >P</text>
<text x="105" y="562.5" font-size="8.7" fill="#404040" text-anchor="middle" font-weight="normal" stroke="#404040" stroke-width="0.1" >R</text>
<line x1="126.6" y1="550.6" x2="162.7" y2="550.6" stroke="#1a1a1a" stroke-width="1.3" />
<text x="128.5" y="562.5" font-size="8.7" fill="#404040" text-anchor="middle" font-weight="normal" stroke="#404040" stroke-width="0.1" >P</text>
<text x="152.7" y="562.5" font-size="8.7" fill="#404040" text-anchor="middle" font-weight="normal" stroke="#404040" stroke-width="0.1" >R</text>
<line x1="177.4" y1="550.6" x2="213.5" y2="550.6" stroke="#1a1a1a" stroke-width="1.3" />
<text x="178.8" y="562.5" font-size="8.7" fill="#404040" text-anchor="middle" font-weight="normal" stroke="#404040" stroke-width="0.1" >P</text>
<text x="203.5" y="562.5" font-size="8.7" fill="#404040" text-anchor="middle" font-weight="normal" stroke="#404040" stroke-width="0.1" >R</text>
<text x="0" y="0" font-size="8.7" fill="#404040" stroke="#404040" stroke-width="0.12" textLength="42" lengthAdjust="spacingAndGlyphs" transform="translate(95.0,545.3) rotate(-44)">SU-DHL-10</text>
<text x="0" y="0" font-size="8.7" fill="#404040" stroke="#404040" stroke-width="0.12" textLength="47.5" lengthAdjust="spacingAndGlyphs" transform="translate(145.5,545.6) rotate(-44)">WSU-DLCL-2</text>
<text x="0" y="0" font-size="8.7" fill="#404040" stroke="#404040" stroke-width="0.12" textLength="46.5" lengthAdjust="spacingAndGlyphs" transform="translate(191.5,545.1) rotate(-44)">KARPAS-422</text>
<text x="218.6" y="582.3" font-size="7.9" fill="#404040" text-anchor="start" font-weight="normal" textLength="35.2" lengthAdjust="spacingAndGlyphs" stroke="#404040" stroke-width="0.12" >p-ERK1/2</text>
<text x="218.6" y="607.4" font-size="7.9" fill="#404040" text-anchor="start" font-weight="normal" textLength="35.4" lengthAdjust="spacingAndGlyphs" stroke="#404040" stroke-width="0.12" >T-ERK1/2</text>
<text x="218.6" y="636.9" font-size="7.9" fill="#404040" text-anchor="start" font-weight="normal" textLength="23.2" lengthAdjust="spacingAndGlyphs" stroke="#404040" stroke-width="0.12" >p-AKT</text>
<text x="218.6" y="656.9" font-size="7.9" fill="#404040" text-anchor="start" font-weight="normal" textLength="23.6" lengthAdjust="spacingAndGlyphs" stroke="#404040" stroke-width="0.12" >T-AKT</text>
<text x="79.3" y="621.7" font-size="8.4" fill="#404040" text-anchor="middle" font-weight="normal" textLength="3.5" lengthAdjust="spacingAndGlyphs" stroke="#404040" stroke-width="0.12" >1</text>
<text x="105" y="621.7" font-size="8.4" fill="#404040" text-anchor="middle" font-weight="normal" textLength="15.7" lengthAdjust="spacingAndGlyphs" stroke="#404040" stroke-width="0.12" >5.69</text>
<text x="128.7" y="621.7" font-size="8.4" fill="#404040" text-anchor="middle" font-weight="normal" textLength="3.5" lengthAdjust="spacingAndGlyphs" stroke="#404040" stroke-width="0.12" >1</text>
<text x="153.4" y="621.7" font-size="8.4" fill="#404040" text-anchor="middle" font-weight="normal" textLength="16.2" lengthAdjust="spacingAndGlyphs" stroke="#404040" stroke-width="0.12" >2.06</text>
<text x="179.2" y="621.7" font-size="8.4" fill="#404040" text-anchor="middle" font-weight="normal" textLength="3.5" lengthAdjust="spacingAndGlyphs" stroke="#404040" stroke-width="0.12" >1</text>
<text x="203.2" y="621.7" font-size="8.4" fill="#404040" text-anchor="middle" font-weight="normal" textLength="16.8" lengthAdjust="spacingAndGlyphs" stroke="#404040" stroke-width="0.12" >2.48</text>
<text x="79.3" y="672.4" font-size="8.4" fill="#404040" text-anchor="middle" font-weight="normal" textLength="3.5" lengthAdjust="spacingAndGlyphs" stroke="#404040" stroke-width="0.12" >1</text>
<text x="105" y="672.4" font-size="8.4" fill="#404040" text-anchor="middle" font-weight="normal" textLength="15.7" lengthAdjust="spacingAndGlyphs" stroke="#404040" stroke-width="0.12" >3.71</text>
<text x="128.7" y="672.4" font-size="8.4" fill="#404040" text-anchor="middle" font-weight="normal" textLength="3.5" lengthAdjust="spacingAndGlyphs" stroke="#404040" stroke-width="0.12" >1</text>
<text x="153.4" y="672.4" font-size="8.4" fill="#404040" text-anchor="middle" font-weight="normal" textLength="16.2" lengthAdjust="spacingAndGlyphs" stroke="#404040" stroke-width="0.12" >3.65</text>
<text x="179.2" y="672.4" font-size="8.4" fill="#404040" text-anchor="middle" font-weight="normal" textLength="3.5" lengthAdjust="spacingAndGlyphs" stroke="#404040" stroke-width="0.12" >1</text>
<text x="203.2" y="672.4" font-size="8.4" fill="#404040" text-anchor="middle" font-weight="normal" textLength="16.8" lengthAdjust="spacingAndGlyphs" stroke="#404040" stroke-width="0.12" >3.06</text>
<clipPath id="cb13"><rect x="274" y="570.3" width="44.5" height="16.40000000000009"/></clipPath>
<g clip-path="url(#cb13)">
<rect x="273" y="569.3" width="46.5" height="18.40000000000009" fill="#e3e3e3"/>
<path d="M282.20,578.20 L290.00,578.20" fill="none" stroke="#151515" stroke-opacity="0.27" stroke-width="8.0" stroke-linecap="round" filter="url(#bl2)"/>
<path d="M282.20,578.20 L290.00,578.20" fill="none" stroke="#151515" stroke-opacity="0.85" stroke-width="4.0" stroke-linecap="round" filter="url(#bl)"/>
<path d="M300.50,578.20 L314.10,578.20" fill="none" stroke="#151515" stroke-opacity="0.30" stroke-width="9.4" stroke-linecap="round" filter="url(#bl2)"/>
<path d="M300.50,578.20 L314.10,578.20" fill="none" stroke="#151515" stroke-opacity="0.95" stroke-width="5.4" stroke-linecap="round" filter="url(#bl)"/>
</g>
<rect x="273.7" y="570.0" width="45.1" height="17.000000000000092" fill="none" stroke="#1e1e1e" stroke-width="1.35"/>
<clipPath id="cb14"><rect x="324.2" y="570.3" width="44.30000000000001" height="16.40000000000009"/></clipPath>
<g clip-path="url(#cb14)">
<rect x="323.2" y="569.3" width="46.30000000000001" height="18.40000000000009" fill="#e3e3e3"/>
<path d="M328.70,578.20 L338.50,578.20" fill="none" stroke="#151515" stroke-opacity="0.19" stroke-width="7.4" stroke-linecap="round" filter="url(#bl2)"/>
<path d="M328.70,578.20 L338.50,578.20" fill="none" stroke="#151515" stroke-opacity="0.6" stroke-width="3.4" stroke-linecap="round" filter="url(#bl)"/>
<path d="M349.10,578.20 L364.00,578.20" fill="none" stroke="#151515" stroke-opacity="0.29" stroke-width="9.0" stroke-linecap="round" filter="url(#bl2)"/>
<path d="M349.10,578.20 L364.00,578.20" fill="none" stroke="#151515" stroke-opacity="0.9" stroke-width="5.0" stroke-linecap="round" filter="url(#bl)"/>
</g>
<rect x="323.9" y="570.0" width="44.90000000000001" height="17.000000000000092" fill="none" stroke="#1e1e1e" stroke-width="1.35"/>
<clipPath id="cb15"><rect x="374.75" y="570.3" width="43.75" height="16.40000000000009"/></clipPath>
<g clip-path="url(#cb15)">
<rect x="373.75" y="569.3" width="45.75" height="18.40000000000009" fill="#e3e3e3"/>
<path d="M377.50,578.50 L389.10,578.50" fill="none" stroke="#151515" stroke-opacity="0.29" stroke-width="8.4" stroke-linecap="round" filter="url(#bl2)"/>
<path d="M377.50,578.50 L389.10,578.50" fill="none" stroke="#151515" stroke-opacity="0.9" stroke-width="4.4" stroke-linecap="round" filter="url(#bl)"/>
<path d="M400.10,578.50 L413.60,578.50" fill="none" stroke="#151515" stroke-opacity="0.32" stroke-width="9.8" stroke-linecap="round" filter="url(#bl2)"/>
<path d="M400.10,578.50 L413.60,578.50" fill="none" stroke="#151515" stroke-opacity="1.0" stroke-width="5.8" stroke-linecap="round" filter="url(#bl)"/>
</g>
<rect x="374.45" y="570.0" width="44.35" height="17.000000000000092" fill="none" stroke="#1e1e1e" stroke-width="1.35"/>
<clipPath id="cb16"><rect x="274" y="591.5" width="44.5" height="16.700000000000045"/></clipPath>
<g clip-path="url(#cb16)">
<rect x="273" y="590.5" width="46.5" height="18.700000000000045" fill="#e3e3e3"/>
<path d="M278.50,599.00 L292.20,599.00" fill="none" stroke="#151515" stroke-opacity="0.16" stroke-width="6.4" stroke-linecap="round" filter="url(#bl2)"/>
<path d="M278.50,599.00 L292.20,599.00" fill="none" stroke="#151515" stroke-opacity="0.5" stroke-width="2.4" stroke-linecap="round" filter="url(#bl)"/>
<path d="M300.90,599.00 L315.70,599.00" fill="none" stroke="#151515" stroke-opacity="0.24" stroke-width="7.4" stroke-linecap="round" filter="url(#bl2)"/>
<path d="M300.90,599.00 L315.70,599.00" fill="none" stroke="#151515" stroke-opacity="0.75" stroke-width="3.4" stroke-linecap="round" filter="url(#bl)"/>
</g>
<rect x="273.7" y="591.2" width="45.1" height="17.300000000000047" fill="none" stroke="#1e1e1e" stroke-width="1.35"/>
<clipPath id="cb17"><rect x="324.2" y="591.5" width="44.30000000000001" height="16.700000000000045"/></clipPath>
<g clip-path="url(#cb17)">
<rect x="323.2" y="590.5" width="46.30000000000001" height="18.700000000000045" fill="#e3e3e3"/>
<path d="M329.20,599.20 L340.80,599.20" fill="none" stroke="#151515" stroke-opacity="0.29" stroke-width="8.4" stroke-linecap="round" filter="url(#bl2)"/>
<path d="M329.20,599.20 L340.80,599.20" fill="none" stroke="#151515" stroke-opacity="0.9" stroke-width="4.4" stroke-linecap="round" filter="url(#bl)"/>
<path d="M350.80,599.40 L364.70,599.40" fill="none" stroke="#151515" stroke-opacity="0.32" stroke-width="10.6" stroke-linecap="round" filter="url(#bl2)"/>
<path d="M350.80,599.40 L364.70,599.40" fill="none" stroke="#151515" stroke-opacity="1.0" stroke-width="6.6" stroke-linecap="round" filter="url(#bl)"/>
</g>
<rect x="323.9" y="591.2" width="44.90000000000001" height="17.300000000000047" fill="none" stroke="#1e1e1e" stroke-width="1.35"/>
<clipPath id="cb18"><rect x="374.75" y="591.5" width="43.75" height="16.700000000000045"/></clipPath>
<g clip-path="url(#cb18)">
<rect x="373.75" y="590.5" width="45.75" height="18.700000000000045" fill="#e3e3e3"/>
<path d="M378.00,599.40 L392.10,599.40" fill="none" stroke="#151515" stroke-opacity="0.27" stroke-width="8.4" stroke-linecap="round" filter="url(#bl2)"/>
<path d="M378.00,599.40 L392.10,599.40" fill="none" stroke="#151515" stroke-opacity="0.85" stroke-width="4.4" stroke-linecap="round" filter="url(#bl)"/>
<path d="M400.70,599.40 L414.20,599.40" fill="none" stroke="#151515" stroke-opacity="0.26" stroke-width="8.0" stroke-linecap="round" filter="url(#bl2)"/>
<path d="M400.70,599.40 L414.20,599.40" fill="none" stroke="#151515" stroke-opacity="0.8" stroke-width="4.0" stroke-linecap="round" filter="url(#bl)"/>
</g>
<rect x="374.45" y="591.2" width="44.35" height="17.300000000000047" fill="none" stroke="#1e1e1e" stroke-width="1.35"/>
<clipPath id="cb19"><rect x="274" y="621" width="44.0" height="18.5"/></clipPath>
<g clip-path="url(#cb19)">
<rect x="273" y="620" width="46.0" height="20.5" fill="#e3e3e3"/>
<path d="M277.20,632.00 L289.10,632.00" fill="none" stroke="#151515" stroke-opacity="0.18" stroke-width="6.8" stroke-linecap="round" filter="url(#bl2)"/>
<path d="M277.20,632.00 L289.10,632.00" fill="none" stroke="#151515" stroke-opacity="0.55" stroke-width="2.8" stroke-linecap="round" filter="url(#bl)"/>
<path d="M300.40,631.60 L314.20,631.60" fill="none" stroke="#151515" stroke-opacity="0.30" stroke-width="9.2" stroke-linecap="round" filter="url(#bl2)"/>
<path d="M300.40,631.60 L314.20,631.60" fill="none" stroke="#151515" stroke-opacity="0.95" stroke-width="5.2" stroke-linecap="round" filter="url(#bl)"/>
</g>
<rect x="273.7" y="620.7" width="44.6" height="19.1" fill="none" stroke="#1e1e1e" stroke-width="1.35"/>
<clipPath id="cb20"><rect x="324.2" y="621" width="43.80000000000001" height="18.5"/></clipPath>
<g clip-path="url(#cb20)">
<rect x="323.2" y="620" width="45.80000000000001" height="20.5" fill="#e3e3e3"/>
<path d="M328.70,630.80 L339.90,630.80" fill="none" stroke="#151515" stroke-opacity="0.26" stroke-width="7.4" stroke-linecap="round" filter="url(#bl2)"/>
<path d="M328.70,630.80 L339.90,630.80" fill="none" stroke="#151515" stroke-opacity="0.8" stroke-width="3.4" stroke-linecap="round" filter="url(#bl)"/>
<path d="M349.00,630.60 L363.60,630.60" fill="none" stroke="#151515" stroke-opacity="0.30" stroke-width="8.8" stroke-linecap="round" filter="url(#bl2)"/>
<path d="M349.00,630.60 L363.60,630.60" fill="none" stroke="#151515" stroke-opacity="0.95" stroke-width="4.8" stroke-linecap="round" filter="url(#bl)"/>
</g>
<rect x="323.9" y="620.7" width="44.40000000000001" height="19.1" fill="none" stroke="#1e1e1e" stroke-width="1.35"/>
<clipPath id="cb21"><rect x="374.75" y="621" width="43.25" height="18.5"/></clipPath>
<g clip-path="url(#cb21)">
<rect x="373.75" y="620" width="45.25" height="20.5" fill="#e3e3e3"/>
<path d="M377.50,631.00 L390.50,631.00" fill="none" stroke="#151515" stroke-opacity="0.27" stroke-width="7.4" stroke-linecap="round" filter="url(#bl2)"/>
<path d="M377.50,631.00 L390.50,631.00" fill="none" stroke="#151515" stroke-opacity="0.85" stroke-width="3.4" stroke-linecap="round" filter="url(#bl)"/>
<path d="M400.40,631.00 L411.60,631.00" fill="none" stroke="#151515" stroke-opacity="0.27" stroke-width="7.4" stroke-linecap="round" filter="url(#bl2)"/>
<path d="M400.40,631.00 L411.60,631.00" fill="none" stroke="#151515" stroke-opacity="0.85" stroke-width="3.4" stroke-linecap="round" filter="url(#bl)"/>
</g>
<rect x="374.45" y="620.7" width="43.85" height="19.1" fill="none" stroke="#1e1e1e" stroke-width="1.35"/>
<clipPath id="cb22"><rect x="274" y="644.7" width="44.5" height="17.5"/></clipPath>
<g clip-path="url(#cb22)">
<rect x="273" y="643.7" width="46.5" height="19.5" fill="#e3e3e3"/>
<path d="M278.30,653.20 L292.40,653.20" fill="none" stroke="#151515" stroke-opacity="0.30" stroke-width="9.0" stroke-linecap="round" filter="url(#bl2)"/>
<path d="M278.30,653.20 L292.40,653.20" fill="none" stroke="#151515" stroke-opacity="0.95" stroke-width="5.0" stroke-linecap="round" filter="url(#bl)"/>
<path d="M301.20,653.20 L314.30,653.20" fill="none" stroke="#151515" stroke-opacity="0.30" stroke-width="9.0" stroke-linecap="round" filter="url(#bl2)"/>
<path d="M301.20,653.20 L314.30,653.20" fill="none" stroke="#151515" stroke-opacity="0.95" stroke-width="5.0" stroke-linecap="round" filter="url(#bl)"/>
</g>
<rect x="273.7" y="644.4000000000001" width="45.1" height="18.1" fill="none" stroke="#1e1e1e" stroke-width="1.35"/>
<clipPath id="cb23"><rect x="324.2" y="644.7" width="44.30000000000001" height="17.5"/></clipPath>
<g clip-path="url(#cb23)">
<rect x="323.2" y="643.7" width="46.30000000000001" height="19.5" fill="#e3e3e3"/>
<path d="M328.50,654.00 L340.50,654.00" fill="none" stroke="#151515" stroke-opacity="0.30" stroke-width="9.0" stroke-linecap="round" filter="url(#bl2)"/>
<path d="M328.50,654.00 L340.50,654.00" fill="none" stroke="#151515" stroke-opacity="0.95" stroke-width="5.0" stroke-linecap="round" filter="url(#bl)"/>
<path d="M350.00,654.00 L363.00,654.00" fill="none" stroke="#151515" stroke-opacity="0.30" stroke-width="9.0" stroke-linecap="round" filter="url(#bl2)"/>
<path d="M350.00,654.00 L363.00,654.00" fill="none" stroke="#151515" stroke-opacity="0.95" stroke-width="5.0" stroke-linecap="round" filter="url(#bl)"/>
</g>
<rect x="323.9" y="644.4000000000001" width="44.90000000000001" height="18.1" fill="none" stroke="#1e1e1e" stroke-width="1.35"/>
<clipPath id="cb24"><rect x="374.75" y="644.7" width="43.75" height="17.5"/></clipPath>
<g clip-path="url(#cb24)">
<rect x="373.75" y="643.7" width="45.75" height="19.5" fill="#e3e3e3"/>
<path d="M377.60,653.60 L390.50,653.60" fill="none" stroke="#151515" stroke-opacity="0.29" stroke-width="8.6" stroke-linecap="round" filter="url(#bl2)"/>
<path d="M377.60,653.60 L390.50,653.60" fill="none" stroke="#151515" stroke-opacity="0.9" stroke-width="4.6" stroke-linecap="round" filter="url(#bl)"/>
<path d="M400.30,653.60 L413.30,653.60" fill="none" stroke="#151515" stroke-opacity="0.29" stroke-width="8.6" stroke-linecap="round" filter="url(#bl2)"/>
<path d="M400.30,653.60 L413.30,653.60" fill="none" stroke="#151515" stroke-opacity="0.9" stroke-width="4.6" stroke-linecap="round" filter="url(#bl)"/>
</g>
<rect x="374.45" y="644.4000000000001" width="44.35" height="18.1" fill="none" stroke="#1e1e1e" stroke-width="1.35"/>
<line x1="277.5" y1="550.6" x2="312.5" y2="550.6" stroke="#1a1a1a" stroke-width="1.3" />
<text x="283" y="562.5" font-size="8.7" fill="#404040" text-anchor="middle" font-weight="normal" stroke="#404040" stroke-width="0.1" >P</text>
<text x="306.25" y="562.5" font-size="8.7" fill="#404040" text-anchor="middle" font-weight="normal" stroke="#404040" stroke-width="0.1" >R</text>
<line x1="329.5" y1="550.6" x2="364.5" y2="550.6" stroke="#1a1a1a" stroke-width="1.3" />
<text x="331.25" y="562.5" font-size="8.7" fill="#404040" text-anchor="middle" font-weight="normal" stroke="#404040" stroke-width="0.1" >P</text>
<text x="356.25" y="562.5" font-size="8.7" fill="#404040" text-anchor="middle" font-weight="normal" stroke="#404040" stroke-width="0.1" >R</text>
<line x1="380" y1="550.6" x2="415" y2="550.6" stroke="#1a1a1a" stroke-width="1.3" />
<text x="382" y="562.5" font-size="8.7" fill="#404040" text-anchor="middle" font-weight="normal" stroke="#404040" stroke-width="0.1" >P</text>
<text x="407" y="562.5" font-size="8.7" fill="#404040" text-anchor="middle" font-weight="normal" stroke="#404040" stroke-width="0.1" >R</text>
<text x="0" y="0" font-size="8.7" fill="#404040" stroke="#404040" stroke-width="0.12" textLength="42" lengthAdjust="spacingAndGlyphs" transform="translate(297.5,545.3) rotate(-44)">SU-DHL-10</text>
<text x="0" y="0" font-size="8.7" fill="#404040" stroke="#404040" stroke-width="0.12" textLength="47.5" lengthAdjust="spacingAndGlyphs" transform="translate(348.0,545.1) rotate(-44)">WSU-DLCL-2</text>
<text x="0" y="0" font-size="8.7" fill="#404040" stroke="#404040" stroke-width="0.12" textLength="46.5" lengthAdjust="spacingAndGlyphs" transform="translate(394.5,544.6) rotate(-44)">KARPAS-422</text>
<text x="423.2" y="580.5" font-size="7.9" fill="#404040" text-anchor="start" font-weight="normal" textLength="33.5" lengthAdjust="spacingAndGlyphs" stroke="#404040" stroke-width="0.12" >p-IGF-1R</text>
<text x="423.2" y="604.0" font-size="7.9" fill="#404040" text-anchor="start" font-weight="normal" textLength="34" lengthAdjust="spacingAndGlyphs" stroke="#404040" stroke-width="0.12" >T-IGF-1R</text>
<text x="423.2" y="633.4" font-size="7.9" fill="#404040" text-anchor="start" font-weight="normal" textLength="35" lengthAdjust="spacingAndGlyphs" stroke="#404040" stroke-width="0.12" >Cyclin D1</text>
<text x="423.2" y="656.9" font-size="7.9" fill="#404040" text-anchor="start" font-weight="normal" textLength="30.2" lengthAdjust="spacingAndGlyphs" stroke="#404040" stroke-width="0.12" >ACTINB</text>
<text x="283" y="617.6" font-size="8.4" fill="#404040" text-anchor="middle" font-weight="normal" textLength="3.5" lengthAdjust="spacingAndGlyphs" stroke="#404040" stroke-width="0.12" >1</text>
<text x="306.6" y="617.6" font-size="8.4" fill="#404040" text-anchor="middle" font-weight="normal" textLength="15.7" lengthAdjust="spacingAndGlyphs" stroke="#404040" stroke-width="0.12" >1.01</text>
<text x="331.25" y="617.6" font-size="8.4" fill="#404040" text-anchor="middle" font-weight="normal" textLength="3.5" lengthAdjust="spacingAndGlyphs" stroke="#404040" stroke-width="0.12" >1</text>
<text x="356.2" y="617.6" font-size="8.4" fill="#404040" text-anchor="middle" font-weight="normal" textLength="15.0" lengthAdjust="spacingAndGlyphs" stroke="#404040" stroke-width="0.12" >1.42</text>
<text x="382" y="617.6" font-size="8.4" fill="#404040" text-anchor="middle" font-weight="normal" textLength="3.5" lengthAdjust="spacingAndGlyphs" stroke="#404040" stroke-width="0.12" >1</text>
<text x="406.9" y="617.6" font-size="8.4" fill="#404040" text-anchor="middle" font-weight="normal" textLength="16.2" lengthAdjust="spacingAndGlyphs" stroke="#404040" stroke-width="0.12" >2.12</text>
<text x="283" y="671.8" font-size="8.4" fill="#404040" text-anchor="middle" font-weight="normal" textLength="3.5" lengthAdjust="spacingAndGlyphs" stroke="#404040" stroke-width="0.12" >1</text>
<text x="306.6" y="671.8" font-size="8.4" fill="#404040" text-anchor="middle" font-weight="normal" textLength="15.7" lengthAdjust="spacingAndGlyphs" stroke="#404040" stroke-width="0.12" >5.06</text>
<text x="331.25" y="671.8" font-size="8.4" fill="#404040" text-anchor="middle" font-weight="normal" textLength="3.5" lengthAdjust="spacingAndGlyphs" stroke="#404040" stroke-width="0.12" >1</text>
<text x="356.2" y="671.8" font-size="8.4" fill="#404040" text-anchor="middle" font-weight="normal" textLength="15.0" lengthAdjust="spacingAndGlyphs" stroke="#404040" stroke-width="0.12" >1.93</text>
<text x="382" y="671.8" font-size="8.4" fill="#404040" text-anchor="middle" font-weight="normal" textLength="3.5" lengthAdjust="spacingAndGlyphs" stroke="#404040" stroke-width="0.12" >1</text>
<text x="406.9" y="671.8" font-size="8.4" fill="#404040" text-anchor="middle" font-weight="normal" textLength="16.2" lengthAdjust="spacingAndGlyphs" stroke="#404040" stroke-width="0.12" >1.07</text>
</svg>
</body></html>
